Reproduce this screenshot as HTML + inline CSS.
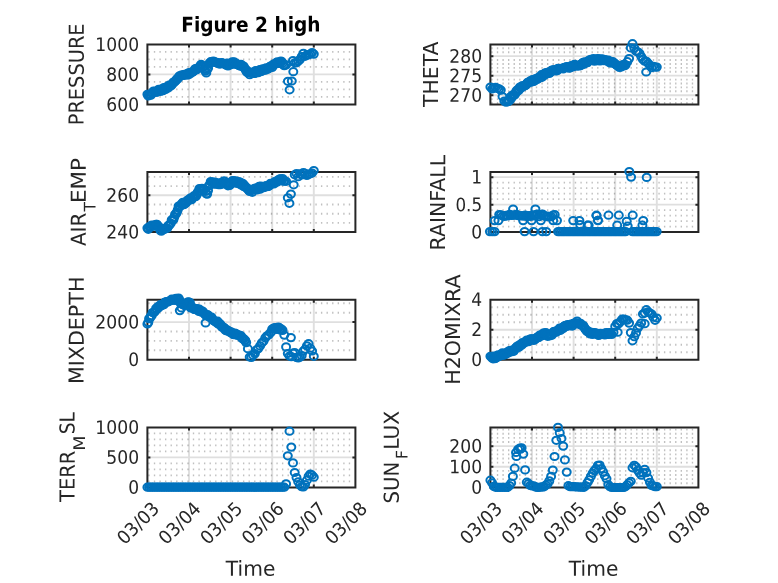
<!DOCTYPE html>
<html lang="en"><head><meta charset="utf-8"><title>Figure 2 high</title>
<style>html,body{margin:0;padding:0;background:#fff}svg{display:block;will-change:transform}text{font-family:'DejaVu Sans','Liberation Sans',sans-serif;fill:#262626}</style></head><body>
<svg width="778" height="583" viewBox="0 0 778 583">
<rect width="778" height="583" fill="#fff"/>
<g>
<path d="M148.28 96.90H353.40M148.28 89.40H353.40M148.28 81.90H353.40M148.28 66.90H353.40M148.28 59.40H353.40M148.28 51.90H353.40" stroke="#262626" stroke-opacity="0.29" stroke-width="1.9" stroke-dasharray="1.35 4.22" fill="none"/>
<path d="M189.00 44.40V104.40M230.60 44.40V104.40M272.20 44.40V104.40M313.80 44.40V104.40M147.40 74.40H355.40" stroke="#262626" stroke-opacity="0.15" stroke-width="1.9" fill="none"/>
<path d="M147.40 44.40H355.40V104.40H147.40ZM147.40 104.40v-3.0M147.40 44.40v3.0M189.00 104.40v-3.0M189.00 44.40v3.0M230.60 104.40v-3.0M230.60 44.40v3.0M272.20 104.40v-3.0M272.20 44.40v3.0M313.80 104.40v-3.0M313.80 44.40v3.0M355.40 104.40v-3.0M355.40 44.40v3.0M147.40 104.40h3.0M355.40 104.40h-3.0M147.40 74.40h3.0M355.40 74.40h-3.0M147.40 44.40h3.0M355.40 44.40h-3.0" stroke="#262626" stroke-width="2" fill="none" stroke-linejoin="miter"/>
<text transform="translate(139.1 110.9) rotate(-0.1)" font-size="18.6" text-anchor="end" textLength="32.8" lengthAdjust="spacingAndGlyphs">600</text>
<text transform="translate(139.1 80.9) rotate(-0.1)" font-size="18.6" text-anchor="end" textLength="32.8" lengthAdjust="spacingAndGlyphs">800</text>
<text transform="translate(139.1 50.9) rotate(-0.1)" font-size="18.6" text-anchor="end" textLength="43.8" lengthAdjust="spacingAndGlyphs">1000</text>
<g fill="none" stroke="#0072BD" stroke-width="2"><ellipse cx="147.4" cy="94.3" rx="4" ry="3.6"/><ellipse cx="148.3" cy="96.0" rx="4" ry="3.6"/><ellipse cx="149.1" cy="94.4" rx="4" ry="3.6"/><ellipse cx="150.0" cy="94.8" rx="4" ry="3.6"/><ellipse cx="150.9" cy="95.1" rx="4" ry="3.6"/><ellipse cx="151.7" cy="93.2" rx="4" ry="3.6"/><ellipse cx="152.6" cy="92.7" rx="4" ry="3.6"/><ellipse cx="153.5" cy="91.1" rx="4" ry="3.6"/><ellipse cx="154.3" cy="91.4" rx="4" ry="3.6"/><ellipse cx="155.2" cy="91.9" rx="4" ry="3.6"/><ellipse cx="156.1" cy="92.1" rx="4" ry="3.6"/><ellipse cx="156.9" cy="92.2" rx="4" ry="3.6"/><ellipse cx="157.8" cy="90.7" rx="4" ry="3.6"/><ellipse cx="158.7" cy="89.4" rx="4" ry="3.6"/><ellipse cx="159.5" cy="89.8" rx="4" ry="3.6"/><ellipse cx="160.4" cy="91.4" rx="4" ry="3.6"/><ellipse cx="161.3" cy="89.0" rx="4" ry="3.6"/><ellipse cx="162.1" cy="89.4" rx="4" ry="3.6"/><ellipse cx="163.0" cy="90.6" rx="4" ry="3.6"/><ellipse cx="163.9" cy="87.6" rx="4" ry="3.6"/><ellipse cx="164.7" cy="89.0" rx="4" ry="3.6"/><ellipse cx="165.6" cy="89.5" rx="4" ry="3.6"/><ellipse cx="166.5" cy="86.9" rx="4" ry="3.6"/><ellipse cx="167.3" cy="87.3" rx="4" ry="3.6"/><ellipse cx="168.2" cy="87.9" rx="4" ry="3.6"/><ellipse cx="169.1" cy="85.1" rx="4" ry="3.6"/><ellipse cx="169.9" cy="85.7" rx="4" ry="3.6"/><ellipse cx="170.8" cy="85.9" rx="4" ry="3.6"/><ellipse cx="171.7" cy="85.0" rx="4" ry="3.6"/><ellipse cx="172.5" cy="83.7" rx="4" ry="3.6"/><ellipse cx="173.4" cy="82.1" rx="4" ry="3.6"/><ellipse cx="174.3" cy="82.3" rx="4" ry="3.6"/><ellipse cx="175.1" cy="81.2" rx="4" ry="3.6"/><ellipse cx="176.0" cy="80.5" rx="4" ry="3.6"/><ellipse cx="176.9" cy="78.8" rx="4" ry="3.6"/><ellipse cx="177.7" cy="78.9" rx="4" ry="3.6"/><ellipse cx="178.6" cy="77.4" rx="4" ry="3.6"/><ellipse cx="179.5" cy="75.8" rx="4" ry="3.6"/><ellipse cx="180.3" cy="76.3" rx="4" ry="3.6"/><ellipse cx="181.2" cy="75.2" rx="4" ry="3.6"/><ellipse cx="182.1" cy="75.4" rx="4" ry="3.6"/><ellipse cx="182.9" cy="74.9" rx="4" ry="3.6"/><ellipse cx="183.8" cy="75.5" rx="4" ry="3.6"/><ellipse cx="184.7" cy="74.4" rx="4" ry="3.6"/><ellipse cx="185.5" cy="74.4" rx="4" ry="3.6"/><ellipse cx="186.4" cy="74.9" rx="4" ry="3.6"/><ellipse cx="187.3" cy="73.7" rx="4" ry="3.6"/><ellipse cx="188.1" cy="74.9" rx="4" ry="3.6"/><ellipse cx="189.0" cy="72.5" rx="4" ry="3.6"/><ellipse cx="189.9" cy="73.9" rx="4" ry="3.6"/><ellipse cx="190.7" cy="72.6" rx="4" ry="3.6"/><ellipse cx="191.6" cy="72.2" rx="4" ry="3.6"/><ellipse cx="192.5" cy="72.3" rx="4" ry="3.6"/><ellipse cx="193.3" cy="71.5" rx="4" ry="3.6"/><ellipse cx="194.2" cy="70.7" rx="4" ry="3.6"/><ellipse cx="195.1" cy="68.9" rx="4" ry="3.6"/><ellipse cx="195.9" cy="68.7" rx="4" ry="3.6"/><ellipse cx="196.8" cy="69.7" rx="4" ry="3.6"/><ellipse cx="197.7" cy="68.2" rx="4" ry="3.6"/><ellipse cx="198.5" cy="67.7" rx="4" ry="3.6"/><ellipse cx="199.4" cy="67.4" rx="4" ry="3.6"/><ellipse cx="200.3" cy="65.7" rx="4" ry="3.6"/><ellipse cx="201.1" cy="64.4" rx="4" ry="3.6"/><ellipse cx="202.0" cy="65.7" rx="4" ry="3.6"/><ellipse cx="202.9" cy="67.2" rx="4" ry="3.6"/><ellipse cx="203.7" cy="66.7" rx="4" ry="3.6"/><ellipse cx="204.6" cy="69.5" rx="4" ry="3.6"/><ellipse cx="205.5" cy="71.2" rx="4" ry="3.6"/><ellipse cx="206.3" cy="73.0" rx="4" ry="3.6"/><ellipse cx="207.2" cy="69.5" rx="4" ry="3.6"/><ellipse cx="208.1" cy="68.2" rx="4" ry="3.6"/><ellipse cx="208.9" cy="64.1" rx="4" ry="3.6"/><ellipse cx="209.8" cy="62.9" rx="4" ry="3.6"/><ellipse cx="210.7" cy="61.7" rx="4" ry="3.6"/><ellipse cx="211.5" cy="62.1" rx="4" ry="3.6"/><ellipse cx="212.4" cy="61.7" rx="4" ry="3.6"/><ellipse cx="213.3" cy="61.0" rx="4" ry="3.6"/><ellipse cx="214.1" cy="61.9" rx="4" ry="3.6"/><ellipse cx="215.0" cy="62.2" rx="4" ry="3.6"/><ellipse cx="215.9" cy="62.4" rx="4" ry="3.6"/><ellipse cx="216.7" cy="62.4" rx="4" ry="3.6"/><ellipse cx="217.6" cy="63.2" rx="4" ry="3.6"/><ellipse cx="218.5" cy="63.1" rx="4" ry="3.6"/><ellipse cx="219.3" cy="64.0" rx="4" ry="3.6"/><ellipse cx="220.2" cy="63.9" rx="4" ry="3.6"/><ellipse cx="221.1" cy="62.9" rx="4" ry="3.6"/><ellipse cx="221.9" cy="62.6" rx="4" ry="3.6"/><ellipse cx="222.8" cy="63.4" rx="4" ry="3.6"/><ellipse cx="223.7" cy="63.8" rx="4" ry="3.6"/><ellipse cx="224.5" cy="63.6" rx="4" ry="3.6"/><ellipse cx="225.4" cy="64.4" rx="4" ry="3.6"/><ellipse cx="226.3" cy="65.2" rx="4" ry="3.6"/><ellipse cx="227.1" cy="63.0" rx="4" ry="3.6"/><ellipse cx="228.0" cy="65.9" rx="4" ry="3.6"/><ellipse cx="228.9" cy="64.3" rx="4" ry="3.6"/><ellipse cx="229.7" cy="64.4" rx="4" ry="3.6"/><ellipse cx="230.6" cy="64.8" rx="4" ry="3.6"/><ellipse cx="231.5" cy="64.1" rx="4" ry="3.6"/><ellipse cx="232.3" cy="61.8" rx="4" ry="3.6"/><ellipse cx="233.2" cy="63.4" rx="4" ry="3.6"/><ellipse cx="234.1" cy="61.9" rx="4" ry="3.6"/><ellipse cx="234.9" cy="63.0" rx="4" ry="3.6"/><ellipse cx="235.8" cy="64.5" rx="4" ry="3.6"/><ellipse cx="236.7" cy="63.6" rx="4" ry="3.6"/><ellipse cx="237.5" cy="64.3" rx="4" ry="3.6"/><ellipse cx="238.4" cy="64.9" rx="4" ry="3.6"/><ellipse cx="239.3" cy="65.6" rx="4" ry="3.6"/><ellipse cx="240.1" cy="66.0" rx="4" ry="3.6"/><ellipse cx="241.0" cy="64.3" rx="4" ry="3.6"/><ellipse cx="241.9" cy="66.1" rx="4" ry="3.6"/><ellipse cx="242.7" cy="66.7" rx="4" ry="3.6"/><ellipse cx="243.6" cy="66.0" rx="4" ry="3.6"/><ellipse cx="244.5" cy="68.1" rx="4" ry="3.6"/><ellipse cx="245.3" cy="69.1" rx="4" ry="3.6"/><ellipse cx="246.2" cy="70.9" rx="4" ry="3.6"/><ellipse cx="247.1" cy="72.4" rx="4" ry="3.6"/><ellipse cx="247.9" cy="71.1" rx="4" ry="3.6"/><ellipse cx="248.8" cy="72.6" rx="4" ry="3.6"/><ellipse cx="249.7" cy="74.7" rx="4" ry="3.6"/><ellipse cx="250.5" cy="72.8" rx="4" ry="3.6"/><ellipse cx="251.4" cy="72.8" rx="4" ry="3.6"/><ellipse cx="252.3" cy="73.5" rx="4" ry="3.6"/><ellipse cx="253.1" cy="72.0" rx="4" ry="3.6"/><ellipse cx="254.0" cy="73.5" rx="4" ry="3.6"/><ellipse cx="254.9" cy="73.4" rx="4" ry="3.6"/><ellipse cx="255.7" cy="70.6" rx="4" ry="3.6"/><ellipse cx="256.6" cy="71.8" rx="4" ry="3.6"/><ellipse cx="257.5" cy="72.3" rx="4" ry="3.6"/><ellipse cx="258.3" cy="72.6" rx="4" ry="3.6"/><ellipse cx="259.2" cy="70.2" rx="4" ry="3.6"/><ellipse cx="260.1" cy="69.7" rx="4" ry="3.6"/><ellipse cx="260.9" cy="71.5" rx="4" ry="3.6"/><ellipse cx="261.8" cy="71.3" rx="4" ry="3.6"/><ellipse cx="262.7" cy="68.9" rx="4" ry="3.6"/><ellipse cx="263.5" cy="69.4" rx="4" ry="3.6"/><ellipse cx="264.4" cy="70.0" rx="4" ry="3.6"/><ellipse cx="265.3" cy="70.1" rx="4" ry="3.6"/><ellipse cx="266.1" cy="67.8" rx="4" ry="3.6"/><ellipse cx="267.0" cy="69.0" rx="4" ry="3.6"/><ellipse cx="267.9" cy="69.2" rx="4" ry="3.6"/><ellipse cx="268.7" cy="68.2" rx="4" ry="3.6"/><ellipse cx="269.6" cy="66.8" rx="4" ry="3.6"/><ellipse cx="270.5" cy="66.1" rx="4" ry="3.6"/><ellipse cx="271.3" cy="66.5" rx="4" ry="3.6"/><ellipse cx="272.2" cy="67.5" rx="4" ry="3.6"/><ellipse cx="273.1" cy="64.6" rx="4" ry="3.6"/><ellipse cx="273.9" cy="64.0" rx="4" ry="3.6"/><ellipse cx="274.8" cy="64.5" rx="4" ry="3.6"/><ellipse cx="275.7" cy="63.0" rx="4" ry="3.6"/><ellipse cx="276.5" cy="62.7" rx="4" ry="3.6"/><ellipse cx="277.4" cy="61.9" rx="4" ry="3.6"/><ellipse cx="278.3" cy="63.2" rx="4" ry="3.6"/><ellipse cx="279.1" cy="63.4" rx="4" ry="3.6"/><ellipse cx="280.0" cy="62.3" rx="4" ry="3.6"/><ellipse cx="280.9" cy="61.1" rx="4" ry="3.6"/><ellipse cx="281.7" cy="61.6" rx="4" ry="3.6"/><ellipse cx="282.6" cy="63.1" rx="4" ry="3.6"/><ellipse cx="283.5" cy="64.9" rx="4" ry="3.6"/><ellipse cx="284.3" cy="65.7" rx="4" ry="3.6"/><ellipse cx="286.1" cy="64.9" rx="4" ry="3.6"/><ellipse cx="293.0" cy="60.6" rx="4" ry="3.6"/><ellipse cx="294.7" cy="62.8" rx="4" ry="3.6"/><ellipse cx="296.5" cy="62.8" rx="4" ry="3.6"/><ellipse cx="298.2" cy="61.1" rx="4" ry="3.6"/><ellipse cx="299.9" cy="59.6" rx="4" ry="3.6"/><ellipse cx="301.7" cy="56.6" rx="4" ry="3.6"/><ellipse cx="303.4" cy="53.3" rx="4" ry="3.6"/><ellipse cx="305.1" cy="56.3" rx="4" ry="3.6"/><ellipse cx="306.9" cy="54.9" rx="4" ry="3.6"/><ellipse cx="308.6" cy="54.8" rx="4" ry="3.6"/><ellipse cx="310.3" cy="54.0" rx="4" ry="3.6"/><ellipse cx="312.1" cy="52.6" rx="4" ry="3.6"/><ellipse cx="313.8" cy="54.1" rx="4" ry="3.6"/><ellipse cx="293.3" cy="71.7" rx="4" ry="3.6"/><ellipse cx="287.9" cy="81.3" rx="4" ry="3.6"/><ellipse cx="291.8" cy="81.0" rx="4" ry="3.6"/><ellipse cx="289.6" cy="89.8" rx="4" ry="3.6"/></g>
</g>
<g>
<path d="M148.28 222.90H353.40M148.28 213.70H353.40M148.28 204.49H353.40M148.28 186.09H353.40M148.28 176.89H353.40" stroke="#262626" stroke-opacity="0.29" stroke-width="1.9" stroke-dasharray="1.35 4.22" fill="none"/>
<path d="M189.00 172.10V232.10M230.60 172.10V232.10M272.20 172.10V232.10M313.80 172.10V232.10M147.40 195.29H355.40" stroke="#262626" stroke-opacity="0.15" stroke-width="1.9" fill="none"/>
<path d="M147.40 172.10H355.40V232.10H147.40ZM147.40 232.10v-3.0M147.40 172.10v3.0M189.00 232.10v-3.0M189.00 172.10v3.0M230.60 232.10v-3.0M230.60 172.10v3.0M272.20 232.10v-3.0M272.20 172.10v3.0M313.80 232.10v-3.0M313.80 172.10v3.0M355.40 232.10v-3.0M355.40 172.10v3.0M147.40 232.10h3.0M355.40 232.10h-3.0M147.40 195.29h3.0M355.40 195.29h-3.0" stroke="#262626" stroke-width="2" fill="none" stroke-linejoin="miter"/>
<text transform="translate(139.1 238.5) rotate(-0.1)" font-size="18.6" text-anchor="end" textLength="32.8" lengthAdjust="spacingAndGlyphs">240</text>
<text transform="translate(139.1 201.7) rotate(-0.1)" font-size="18.6" text-anchor="end" textLength="32.8" lengthAdjust="spacingAndGlyphs">260</text>
<g fill="none" stroke="#0072BD" stroke-width="2"><ellipse cx="147.4" cy="228.1" rx="4" ry="3.6"/><ellipse cx="148.3" cy="229.3" rx="4" ry="3.6"/><ellipse cx="149.1" cy="226.8" rx="4" ry="3.6"/><ellipse cx="150.0" cy="226.9" rx="4" ry="3.6"/><ellipse cx="150.9" cy="226.4" rx="4" ry="3.6"/><ellipse cx="151.7" cy="225.0" rx="4" ry="3.6"/><ellipse cx="152.6" cy="225.9" rx="4" ry="3.6"/><ellipse cx="153.5" cy="225.8" rx="4" ry="3.6"/><ellipse cx="154.3" cy="225.0" rx="4" ry="3.6"/><ellipse cx="155.2" cy="226.2" rx="4" ry="3.6"/><ellipse cx="156.1" cy="224.3" rx="4" ry="3.6"/><ellipse cx="156.9" cy="224.3" rx="4" ry="3.6"/><ellipse cx="157.8" cy="225.7" rx="4" ry="3.6"/><ellipse cx="158.7" cy="226.8" rx="4" ry="3.6"/><ellipse cx="159.5" cy="227.3" rx="4" ry="3.6"/><ellipse cx="160.4" cy="230.4" rx="4" ry="3.6"/><ellipse cx="161.3" cy="231.2" rx="4" ry="3.6"/><ellipse cx="162.1" cy="229.2" rx="4" ry="3.6"/><ellipse cx="163.0" cy="229.7" rx="4" ry="3.6"/><ellipse cx="163.9" cy="228.9" rx="4" ry="3.6"/><ellipse cx="164.7" cy="229.2" rx="4" ry="3.6"/><ellipse cx="165.6" cy="228.3" rx="4" ry="3.6"/><ellipse cx="166.5" cy="228.0" rx="4" ry="3.6"/><ellipse cx="167.3" cy="228.2" rx="4" ry="3.6"/><ellipse cx="168.2" cy="225.6" rx="4" ry="3.6"/><ellipse cx="169.1" cy="225.4" rx="4" ry="3.6"/><ellipse cx="169.9" cy="224.2" rx="4" ry="3.6"/><ellipse cx="170.8" cy="223.3" rx="4" ry="3.6"/><ellipse cx="171.7" cy="219.8" rx="4" ry="3.6"/><ellipse cx="172.5" cy="220.5" rx="4" ry="3.6"/><ellipse cx="173.4" cy="219.7" rx="4" ry="3.6"/><ellipse cx="174.3" cy="217.1" rx="4" ry="3.6"/><ellipse cx="175.1" cy="214.4" rx="4" ry="3.6"/><ellipse cx="176.0" cy="213.9" rx="4" ry="3.6"/><ellipse cx="176.9" cy="212.3" rx="4" ry="3.6"/><ellipse cx="177.7" cy="209.9" rx="4" ry="3.6"/><ellipse cx="178.6" cy="206.0" rx="4" ry="3.6"/><ellipse cx="179.5" cy="206.5" rx="4" ry="3.6"/><ellipse cx="180.3" cy="206.1" rx="4" ry="3.6"/><ellipse cx="181.2" cy="204.2" rx="4" ry="3.6"/><ellipse cx="182.1" cy="204.3" rx="4" ry="3.6"/><ellipse cx="182.9" cy="202.3" rx="4" ry="3.6"/><ellipse cx="183.8" cy="204.7" rx="4" ry="3.6"/><ellipse cx="184.7" cy="203.9" rx="4" ry="3.6"/><ellipse cx="185.5" cy="202.8" rx="4" ry="3.6"/><ellipse cx="186.4" cy="202.6" rx="4" ry="3.6"/><ellipse cx="187.3" cy="200.3" rx="4" ry="3.6"/><ellipse cx="188.1" cy="200.2" rx="4" ry="3.6"/><ellipse cx="189.0" cy="199.4" rx="4" ry="3.6"/><ellipse cx="189.9" cy="199.9" rx="4" ry="3.6"/><ellipse cx="190.7" cy="197.9" rx="4" ry="3.6"/><ellipse cx="191.6" cy="199.7" rx="4" ry="3.6"/><ellipse cx="192.5" cy="197.8" rx="4" ry="3.6"/><ellipse cx="193.3" cy="197.1" rx="4" ry="3.6"/><ellipse cx="194.2" cy="195.5" rx="4" ry="3.6"/><ellipse cx="195.1" cy="196.6" rx="4" ry="3.6"/><ellipse cx="195.9" cy="196.4" rx="4" ry="3.6"/><ellipse cx="196.8" cy="194.7" rx="4" ry="3.6"/><ellipse cx="197.7" cy="192.0" rx="4" ry="3.6"/><ellipse cx="198.5" cy="192.0" rx="4" ry="3.6"/><ellipse cx="199.4" cy="188.6" rx="4" ry="3.6"/><ellipse cx="200.3" cy="189.2" rx="4" ry="3.6"/><ellipse cx="201.1" cy="188.8" rx="4" ry="3.6"/><ellipse cx="202.0" cy="188.3" rx="4" ry="3.6"/><ellipse cx="202.9" cy="189.4" rx="4" ry="3.6"/><ellipse cx="203.7" cy="190.1" rx="4" ry="3.6"/><ellipse cx="204.6" cy="189.3" rx="4" ry="3.6"/><ellipse cx="205.5" cy="191.5" rx="4" ry="3.6"/><ellipse cx="206.3" cy="193.7" rx="4" ry="3.6"/><ellipse cx="207.2" cy="194.1" rx="4" ry="3.6"/><ellipse cx="208.1" cy="190.6" rx="4" ry="3.6"/><ellipse cx="208.9" cy="185.6" rx="4" ry="3.6"/><ellipse cx="209.8" cy="185.0" rx="4" ry="3.6"/><ellipse cx="210.7" cy="181.6" rx="4" ry="3.6"/><ellipse cx="211.5" cy="182.3" rx="4" ry="3.6"/><ellipse cx="212.4" cy="182.1" rx="4" ry="3.6"/><ellipse cx="213.3" cy="182.3" rx="4" ry="3.6"/><ellipse cx="214.1" cy="184.1" rx="4" ry="3.6"/><ellipse cx="215.0" cy="182.0" rx="4" ry="3.6"/><ellipse cx="215.9" cy="183.9" rx="4" ry="3.6"/><ellipse cx="216.7" cy="183.7" rx="4" ry="3.6"/><ellipse cx="217.6" cy="182.8" rx="4" ry="3.6"/><ellipse cx="218.5" cy="184.7" rx="4" ry="3.6"/><ellipse cx="219.3" cy="183.9" rx="4" ry="3.6"/><ellipse cx="220.2" cy="184.6" rx="4" ry="3.6"/><ellipse cx="221.1" cy="183.4" rx="4" ry="3.6"/><ellipse cx="221.9" cy="182.3" rx="4" ry="3.6"/><ellipse cx="222.8" cy="184.0" rx="4" ry="3.6"/><ellipse cx="223.7" cy="181.1" rx="4" ry="3.6"/><ellipse cx="224.5" cy="181.0" rx="4" ry="3.6"/><ellipse cx="225.4" cy="183.6" rx="4" ry="3.6"/><ellipse cx="226.3" cy="183.1" rx="4" ry="3.6"/><ellipse cx="227.1" cy="183.7" rx="4" ry="3.6"/><ellipse cx="228.0" cy="185.8" rx="4" ry="3.6"/><ellipse cx="228.9" cy="184.4" rx="4" ry="3.6"/><ellipse cx="229.7" cy="185.4" rx="4" ry="3.6"/><ellipse cx="230.6" cy="184.0" rx="4" ry="3.6"/><ellipse cx="231.5" cy="182.3" rx="4" ry="3.6"/><ellipse cx="232.3" cy="180.8" rx="4" ry="3.6"/><ellipse cx="233.2" cy="180.6" rx="4" ry="3.6"/><ellipse cx="234.1" cy="182.9" rx="4" ry="3.6"/><ellipse cx="234.9" cy="181.4" rx="4" ry="3.6"/><ellipse cx="235.8" cy="180.9" rx="4" ry="3.6"/><ellipse cx="236.7" cy="181.5" rx="4" ry="3.6"/><ellipse cx="237.5" cy="183.5" rx="4" ry="3.6"/><ellipse cx="238.4" cy="181.5" rx="4" ry="3.6"/><ellipse cx="239.3" cy="183.6" rx="4" ry="3.6"/><ellipse cx="240.1" cy="182.1" rx="4" ry="3.6"/><ellipse cx="241.0" cy="185.0" rx="4" ry="3.6"/><ellipse cx="241.9" cy="184.2" rx="4" ry="3.6"/><ellipse cx="242.7" cy="183.3" rx="4" ry="3.6"/><ellipse cx="243.6" cy="186.4" rx="4" ry="3.6"/><ellipse cx="244.5" cy="185.2" rx="4" ry="3.6"/><ellipse cx="245.3" cy="187.2" rx="4" ry="3.6"/><ellipse cx="246.2" cy="187.8" rx="4" ry="3.6"/><ellipse cx="247.1" cy="187.8" rx="4" ry="3.6"/><ellipse cx="247.9" cy="189.1" rx="4" ry="3.6"/><ellipse cx="248.8" cy="190.4" rx="4" ry="3.6"/><ellipse cx="249.7" cy="191.4" rx="4" ry="3.6"/><ellipse cx="250.5" cy="190.6" rx="4" ry="3.6"/><ellipse cx="251.4" cy="190.1" rx="4" ry="3.6"/><ellipse cx="252.3" cy="192.3" rx="4" ry="3.6"/><ellipse cx="253.1" cy="189.2" rx="4" ry="3.6"/><ellipse cx="254.0" cy="190.0" rx="4" ry="3.6"/><ellipse cx="254.9" cy="188.3" rx="4" ry="3.6"/><ellipse cx="255.7" cy="188.1" rx="4" ry="3.6"/><ellipse cx="256.6" cy="189.5" rx="4" ry="3.6"/><ellipse cx="257.5" cy="189.8" rx="4" ry="3.6"/><ellipse cx="258.3" cy="188.1" rx="4" ry="3.6"/><ellipse cx="259.2" cy="186.4" rx="4" ry="3.6"/><ellipse cx="260.1" cy="189.1" rx="4" ry="3.6"/><ellipse cx="260.9" cy="186.0" rx="4" ry="3.6"/><ellipse cx="261.8" cy="186.8" rx="4" ry="3.6"/><ellipse cx="262.7" cy="187.0" rx="4" ry="3.6"/><ellipse cx="263.5" cy="187.7" rx="4" ry="3.6"/><ellipse cx="264.4" cy="187.3" rx="4" ry="3.6"/><ellipse cx="265.3" cy="186.4" rx="4" ry="3.6"/><ellipse cx="266.1" cy="185.5" rx="4" ry="3.6"/><ellipse cx="267.0" cy="186.6" rx="4" ry="3.6"/><ellipse cx="267.9" cy="186.4" rx="4" ry="3.6"/><ellipse cx="268.7" cy="186.2" rx="4" ry="3.6"/><ellipse cx="269.6" cy="185.4" rx="4" ry="3.6"/><ellipse cx="270.5" cy="183.3" rx="4" ry="3.6"/><ellipse cx="271.3" cy="183.6" rx="4" ry="3.6"/><ellipse cx="272.2" cy="183.7" rx="4" ry="3.6"/><ellipse cx="273.1" cy="183.3" rx="4" ry="3.6"/><ellipse cx="273.9" cy="183.9" rx="4" ry="3.6"/><ellipse cx="274.8" cy="181.6" rx="4" ry="3.6"/><ellipse cx="275.7" cy="182.5" rx="4" ry="3.6"/><ellipse cx="276.5" cy="181.2" rx="4" ry="3.6"/><ellipse cx="277.4" cy="182.0" rx="4" ry="3.6"/><ellipse cx="278.3" cy="179.8" rx="4" ry="3.6"/><ellipse cx="279.1" cy="180.3" rx="4" ry="3.6"/><ellipse cx="280.0" cy="178.8" rx="4" ry="3.6"/><ellipse cx="280.9" cy="178.8" rx="4" ry="3.6"/><ellipse cx="281.7" cy="180.6" rx="4" ry="3.6"/><ellipse cx="282.6" cy="178.6" rx="4" ry="3.6"/><ellipse cx="283.5" cy="181.2" rx="4" ry="3.6"/><ellipse cx="284.3" cy="181.0" rx="4" ry="3.6"/><ellipse cx="286.1" cy="181.3" rx="4" ry="3.6"/><ellipse cx="294.7" cy="174.8" rx="4" ry="3.6"/><ellipse cx="296.5" cy="173.5" rx="4" ry="3.6"/><ellipse cx="298.2" cy="176.7" rx="4" ry="3.6"/><ellipse cx="299.9" cy="173.8" rx="4" ry="3.6"/><ellipse cx="301.7" cy="174.9" rx="4" ry="3.6"/><ellipse cx="303.4" cy="172.6" rx="4" ry="3.6"/><ellipse cx="305.1" cy="173.4" rx="4" ry="3.6"/><ellipse cx="306.9" cy="175.4" rx="4" ry="3.6"/><ellipse cx="308.6" cy="174.3" rx="4" ry="3.6"/><ellipse cx="310.3" cy="173.8" rx="4" ry="3.6"/><ellipse cx="312.1" cy="173.0" rx="4" ry="3.6"/><ellipse cx="313.8" cy="170.5" rx="4" ry="3.6"/><ellipse cx="293.7" cy="184.8" rx="4" ry="3.6"/><ellipse cx="290.9" cy="194.1" rx="4" ry="3.6"/><ellipse cx="287.8" cy="197.8" rx="4" ry="3.6"/><ellipse cx="289.4" cy="203.3" rx="4" ry="3.6"/></g>
</g>
<g>
<path d="M148.28 350.30H353.40M148.28 340.89H353.40M148.28 331.49H353.40M148.28 312.68H353.40M148.28 303.27H353.40" stroke="#262626" stroke-opacity="0.29" stroke-width="1.9" stroke-dasharray="1.35 4.22" fill="none"/>
<path d="M189.00 299.70V359.70M230.60 299.70V359.70M272.20 299.70V359.70M313.80 299.70V359.70M147.40 322.08H355.40" stroke="#262626" stroke-opacity="0.15" stroke-width="1.9" fill="none"/>
<path d="M147.40 299.70H355.40V359.70H147.40ZM147.40 359.70v-3.0M147.40 299.70v3.0M189.00 359.70v-3.0M189.00 299.70v3.0M230.60 359.70v-3.0M230.60 299.70v3.0M272.20 359.70v-3.0M272.20 299.70v3.0M313.80 359.70v-3.0M313.80 299.70v3.0M355.40 359.70v-3.0M355.40 299.70v3.0M147.40 359.70h3.0M355.40 359.70h-3.0M147.40 322.08h3.0M355.40 322.08h-3.0" stroke="#262626" stroke-width="2" fill="none" stroke-linejoin="miter"/>
<text transform="translate(139.1 366.1) rotate(-0.1)" font-size="18.6" text-anchor="end" textLength="10.9" lengthAdjust="spacingAndGlyphs">0</text>
<text transform="translate(139.1 328.5) rotate(-0.1)" font-size="18.6" text-anchor="end" textLength="43.8" lengthAdjust="spacingAndGlyphs">2000</text>
<g fill="none" stroke="#0072BD" stroke-width="2"><ellipse cx="147.4" cy="324.0" rx="4" ry="3.6"/><ellipse cx="148.3" cy="322.4" rx="4" ry="3.6"/><ellipse cx="149.1" cy="318.6" rx="4" ry="3.6"/><ellipse cx="150.0" cy="318.1" rx="4" ry="3.6"/><ellipse cx="150.9" cy="316.0" rx="4" ry="3.6"/><ellipse cx="151.7" cy="315.8" rx="4" ry="3.6"/><ellipse cx="152.6" cy="312.5" rx="4" ry="3.6"/><ellipse cx="153.5" cy="312.5" rx="4" ry="3.6"/><ellipse cx="154.3" cy="312.2" rx="4" ry="3.6"/><ellipse cx="155.2" cy="311.0" rx="4" ry="3.6"/><ellipse cx="156.1" cy="308.4" rx="4" ry="3.6"/><ellipse cx="156.9" cy="309.3" rx="4" ry="3.6"/><ellipse cx="157.8" cy="306.7" rx="4" ry="3.6"/><ellipse cx="158.7" cy="307.6" rx="4" ry="3.6"/><ellipse cx="159.5" cy="306.2" rx="4" ry="3.6"/><ellipse cx="160.4" cy="304.7" rx="4" ry="3.6"/><ellipse cx="161.3" cy="305.6" rx="4" ry="3.6"/><ellipse cx="162.1" cy="305.2" rx="4" ry="3.6"/><ellipse cx="163.0" cy="304.3" rx="4" ry="3.6"/><ellipse cx="163.9" cy="304.6" rx="4" ry="3.6"/><ellipse cx="164.7" cy="302.4" rx="4" ry="3.6"/><ellipse cx="165.6" cy="302.0" rx="4" ry="3.6"/><ellipse cx="166.5" cy="301.5" rx="4" ry="3.6"/><ellipse cx="167.3" cy="302.2" rx="4" ry="3.6"/><ellipse cx="168.2" cy="301.5" rx="4" ry="3.6"/><ellipse cx="169.1" cy="301.0" rx="4" ry="3.6"/><ellipse cx="169.9" cy="301.0" rx="4" ry="3.6"/><ellipse cx="170.8" cy="300.2" rx="4" ry="3.6"/><ellipse cx="171.7" cy="299.2" rx="4" ry="3.6"/><ellipse cx="172.5" cy="300.1" rx="4" ry="3.6"/><ellipse cx="173.4" cy="299.4" rx="4" ry="3.6"/><ellipse cx="174.3" cy="299.5" rx="4" ry="3.6"/><ellipse cx="175.1" cy="300.5" rx="4" ry="3.6"/><ellipse cx="176.0" cy="298.4" rx="4" ry="3.6"/><ellipse cx="176.9" cy="299.4" rx="4" ry="3.6"/><ellipse cx="177.7" cy="299.2" rx="4" ry="3.6"/><ellipse cx="178.6" cy="298.0" rx="4" ry="3.6"/><ellipse cx="179.5" cy="300.1" rx="4" ry="3.6"/><ellipse cx="180.3" cy="303.0" rx="4" ry="3.6"/><ellipse cx="181.2" cy="302.7" rx="4" ry="3.6"/><ellipse cx="182.1" cy="304.0" rx="4" ry="3.6"/><ellipse cx="182.9" cy="304.8" rx="4" ry="3.6"/><ellipse cx="183.8" cy="303.9" rx="4" ry="3.6"/><ellipse cx="184.7" cy="305.3" rx="4" ry="3.6"/><ellipse cx="185.5" cy="303.8" rx="4" ry="3.6"/><ellipse cx="186.4" cy="303.0" rx="4" ry="3.6"/><ellipse cx="187.3" cy="303.1" rx="4" ry="3.6"/><ellipse cx="188.1" cy="301.8" rx="4" ry="3.6"/><ellipse cx="189.0" cy="302.1" rx="4" ry="3.6"/><ellipse cx="189.9" cy="302.6" rx="4" ry="3.6"/><ellipse cx="190.7" cy="307.9" rx="4" ry="3.6"/><ellipse cx="191.6" cy="307.8" rx="4" ry="3.6"/><ellipse cx="192.5" cy="307.2" rx="4" ry="3.6"/><ellipse cx="193.3" cy="308.0" rx="4" ry="3.6"/><ellipse cx="194.2" cy="309.4" rx="4" ry="3.6"/><ellipse cx="195.1" cy="309.4" rx="4" ry="3.6"/><ellipse cx="195.9" cy="308.8" rx="4" ry="3.6"/><ellipse cx="196.8" cy="308.6" rx="4" ry="3.6"/><ellipse cx="197.7" cy="309.1" rx="4" ry="3.6"/><ellipse cx="198.5" cy="311.1" rx="4" ry="3.6"/><ellipse cx="199.4" cy="309.2" rx="4" ry="3.6"/><ellipse cx="200.3" cy="311.7" rx="4" ry="3.6"/><ellipse cx="201.1" cy="312.0" rx="4" ry="3.6"/><ellipse cx="202.0" cy="310.8" rx="4" ry="3.6"/><ellipse cx="202.9" cy="311.5" rx="4" ry="3.6"/><ellipse cx="203.7" cy="312.7" rx="4" ry="3.6"/><ellipse cx="204.6" cy="313.9" rx="4" ry="3.6"/><ellipse cx="205.5" cy="315.0" rx="4" ry="3.6"/><ellipse cx="206.3" cy="315.8" rx="4" ry="3.6"/><ellipse cx="207.2" cy="314.6" rx="4" ry="3.6"/><ellipse cx="208.1" cy="315.0" rx="4" ry="3.6"/><ellipse cx="208.9" cy="316.4" rx="4" ry="3.6"/><ellipse cx="209.8" cy="317.2" rx="4" ry="3.6"/><ellipse cx="210.7" cy="318.0" rx="4" ry="3.6"/><ellipse cx="211.5" cy="317.1" rx="4" ry="3.6"/><ellipse cx="212.4" cy="319.0" rx="4" ry="3.6"/><ellipse cx="213.3" cy="320.3" rx="4" ry="3.6"/><ellipse cx="214.1" cy="320.8" rx="4" ry="3.6"/><ellipse cx="215.0" cy="321.4" rx="4" ry="3.6"/><ellipse cx="215.9" cy="321.9" rx="4" ry="3.6"/><ellipse cx="216.7" cy="322.8" rx="4" ry="3.6"/><ellipse cx="217.6" cy="321.2" rx="4" ry="3.6"/><ellipse cx="218.5" cy="324.2" rx="4" ry="3.6"/><ellipse cx="219.3" cy="323.3" rx="4" ry="3.6"/><ellipse cx="220.2" cy="324.1" rx="4" ry="3.6"/><ellipse cx="221.1" cy="325.3" rx="4" ry="3.6"/><ellipse cx="221.9" cy="327.3" rx="4" ry="3.6"/><ellipse cx="222.8" cy="327.2" rx="4" ry="3.6"/><ellipse cx="223.7" cy="327.3" rx="4" ry="3.6"/><ellipse cx="224.5" cy="328.1" rx="4" ry="3.6"/><ellipse cx="225.4" cy="330.2" rx="4" ry="3.6"/><ellipse cx="226.3" cy="330.8" rx="4" ry="3.6"/><ellipse cx="227.1" cy="329.8" rx="4" ry="3.6"/><ellipse cx="228.0" cy="330.8" rx="4" ry="3.6"/><ellipse cx="228.9" cy="331.4" rx="4" ry="3.6"/><ellipse cx="229.7" cy="331.3" rx="4" ry="3.6"/><ellipse cx="230.6" cy="332.6" rx="4" ry="3.6"/><ellipse cx="231.5" cy="332.0" rx="4" ry="3.6"/><ellipse cx="232.3" cy="333.2" rx="4" ry="3.6"/><ellipse cx="233.2" cy="334.5" rx="4" ry="3.6"/><ellipse cx="234.1" cy="334.6" rx="4" ry="3.6"/><ellipse cx="234.9" cy="333.0" rx="4" ry="3.6"/><ellipse cx="235.8" cy="333.6" rx="4" ry="3.6"/><ellipse cx="236.7" cy="334.4" rx="4" ry="3.6"/><ellipse cx="237.5" cy="335.4" rx="4" ry="3.6"/><ellipse cx="238.4" cy="335.0" rx="4" ry="3.6"/><ellipse cx="239.3" cy="335.0" rx="4" ry="3.6"/><ellipse cx="240.1" cy="335.5" rx="4" ry="3.6"/><ellipse cx="241.0" cy="335.8" rx="4" ry="3.6"/><ellipse cx="241.9" cy="338.3" rx="4" ry="3.6"/><ellipse cx="242.7" cy="338.6" rx="4" ry="3.6"/><ellipse cx="243.6" cy="338.6" rx="4" ry="3.6"/><ellipse cx="244.5" cy="340.1" rx="4" ry="3.6"/><ellipse cx="245.3" cy="340.4" rx="4" ry="3.6"/><ellipse cx="246.2" cy="342.6" rx="4" ry="3.6"/><ellipse cx="247.9" cy="348.7" rx="4" ry="3.6"/><ellipse cx="249.7" cy="357.0" rx="4" ry="3.6"/><ellipse cx="251.4" cy="357.4" rx="4" ry="3.6"/><ellipse cx="253.1" cy="355.3" rx="4" ry="3.6"/><ellipse cx="254.9" cy="353.6" rx="4" ry="3.6"/><ellipse cx="256.6" cy="349.7" rx="4" ry="3.6"/><ellipse cx="258.3" cy="348.6" rx="4" ry="3.6"/><ellipse cx="260.1" cy="345.9" rx="4" ry="3.6"/><ellipse cx="261.8" cy="342.9" rx="4" ry="3.6"/><ellipse cx="263.5" cy="341.3" rx="4" ry="3.6"/><ellipse cx="265.3" cy="337.9" rx="4" ry="3.6"/><ellipse cx="267.0" cy="335.8" rx="4" ry="3.6"/><ellipse cx="268.7" cy="335.0" rx="4" ry="3.6"/><ellipse cx="270.5" cy="332.7" rx="4" ry="3.6"/><ellipse cx="271.3" cy="331.7" rx="4" ry="3.6"/><ellipse cx="272.2" cy="329.0" rx="4" ry="3.6"/><ellipse cx="273.1" cy="328.7" rx="4" ry="3.6"/><ellipse cx="273.9" cy="328.0" rx="4" ry="3.6"/><ellipse cx="274.8" cy="327.8" rx="4" ry="3.6"/><ellipse cx="275.7" cy="327.5" rx="4" ry="3.6"/><ellipse cx="276.5" cy="329.3" rx="4" ry="3.6"/><ellipse cx="277.4" cy="328.8" rx="4" ry="3.6"/><ellipse cx="278.3" cy="327.1" rx="4" ry="3.6"/><ellipse cx="279.1" cy="327.6" rx="4" ry="3.6"/><ellipse cx="280.0" cy="329.9" rx="4" ry="3.6"/><ellipse cx="280.9" cy="329.3" rx="4" ry="3.6"/><ellipse cx="281.7" cy="329.2" rx="4" ry="3.6"/><ellipse cx="282.6" cy="330.4" rx="4" ry="3.6"/><ellipse cx="284.3" cy="335.1" rx="4" ry="3.6"/><ellipse cx="286.1" cy="346.9" rx="4" ry="3.6"/><ellipse cx="287.8" cy="353.5" rx="4" ry="3.6"/><ellipse cx="289.5" cy="356.0" rx="4" ry="3.6"/><ellipse cx="291.3" cy="356.6" rx="4" ry="3.6"/><ellipse cx="293.0" cy="353.0" rx="4" ry="3.6"/><ellipse cx="294.7" cy="352.5" rx="4" ry="3.6"/><ellipse cx="296.5" cy="357.4" rx="4" ry="3.6"/><ellipse cx="298.2" cy="357.9" rx="4" ry="3.6"/><ellipse cx="299.9" cy="357.1" rx="4" ry="3.6"/><ellipse cx="301.7" cy="355.7" rx="4" ry="3.6"/><ellipse cx="303.4" cy="351.1" rx="4" ry="3.6"/><ellipse cx="305.1" cy="349.2" rx="4" ry="3.6"/><ellipse cx="306.9" cy="345.9" rx="4" ry="3.6"/><ellipse cx="308.6" cy="343.7" rx="4" ry="3.6"/><ellipse cx="310.3" cy="348.2" rx="4" ry="3.6"/><ellipse cx="312.1" cy="351.0" rx="4" ry="3.6"/><ellipse cx="313.8" cy="356.3" rx="4" ry="3.6"/><ellipse cx="179.8" cy="310.6" rx="4" ry="3.6"/><ellipse cx="205.6" cy="322.9" rx="4" ry="3.6"/><ellipse cx="290.9" cy="337.6" rx="4" ry="3.6"/><ellipse cx="181.5" cy="308.0" rx="4" ry="3.6"/></g>
</g>
<g>
<path d="M148.28 481.40H353.40M148.28 475.40H353.40M148.28 469.40H353.40M148.28 463.40H353.40M148.28 451.40H353.40M148.28 445.40H353.40M148.28 439.40H353.40M148.28 433.40H353.40" stroke="#262626" stroke-opacity="0.29" stroke-width="1.9" stroke-dasharray="1.35 4.22" fill="none"/>
<path d="M189.00 427.40V487.40M230.60 427.40V487.40M272.20 427.40V487.40M313.80 427.40V487.40M147.40 457.40H355.40" stroke="#262626" stroke-opacity="0.15" stroke-width="1.9" fill="none"/>
<path d="M147.40 427.40H355.40V487.40H147.40ZM147.40 487.40v-3.0M147.40 427.40v3.0M189.00 487.40v-3.0M189.00 427.40v3.0M230.60 487.40v-3.0M230.60 427.40v3.0M272.20 487.40v-3.0M272.20 427.40v3.0M313.80 487.40v-3.0M313.80 427.40v3.0M355.40 487.40v-3.0M355.40 427.40v3.0M147.40 487.40h3.0M355.40 487.40h-3.0M147.40 457.40h3.0M355.40 457.40h-3.0M147.40 427.40h3.0M355.40 427.40h-3.0" stroke="#262626" stroke-width="2" fill="none" stroke-linejoin="miter"/>
<text transform="translate(139.1 493.8) rotate(-0.1)" font-size="18.6" text-anchor="end" textLength="10.9" lengthAdjust="spacingAndGlyphs">0</text>
<text transform="translate(139.1 463.8) rotate(-0.1)" font-size="18.6" text-anchor="end" textLength="32.8" lengthAdjust="spacingAndGlyphs">500</text>
<text transform="translate(139.1 433.8) rotate(-0.1)" font-size="18.6" text-anchor="end" textLength="43.8" lengthAdjust="spacingAndGlyphs">1000</text>
<g fill="none" stroke="#0072BD" stroke-width="2"><ellipse cx="147.4" cy="487.2" rx="4" ry="3.6"/><ellipse cx="149.1" cy="487.2" rx="4" ry="3.6"/><ellipse cx="150.9" cy="487.2" rx="4" ry="3.6"/><ellipse cx="152.6" cy="487.2" rx="4" ry="3.6"/><ellipse cx="154.3" cy="487.2" rx="4" ry="3.6"/><ellipse cx="156.1" cy="487.2" rx="4" ry="3.6"/><ellipse cx="157.8" cy="487.2" rx="4" ry="3.6"/><ellipse cx="159.5" cy="487.2" rx="4" ry="3.6"/><ellipse cx="161.3" cy="487.2" rx="4" ry="3.6"/><ellipse cx="163.0" cy="487.2" rx="4" ry="3.6"/><ellipse cx="164.7" cy="487.2" rx="4" ry="3.6"/><ellipse cx="166.5" cy="487.2" rx="4" ry="3.6"/><ellipse cx="168.2" cy="487.2" rx="4" ry="3.6"/><ellipse cx="169.9" cy="487.2" rx="4" ry="3.6"/><ellipse cx="171.7" cy="487.2" rx="4" ry="3.6"/><ellipse cx="173.4" cy="487.2" rx="4" ry="3.6"/><ellipse cx="175.1" cy="487.2" rx="4" ry="3.6"/><ellipse cx="176.9" cy="487.2" rx="4" ry="3.6"/><ellipse cx="178.6" cy="487.2" rx="4" ry="3.6"/><ellipse cx="180.3" cy="487.2" rx="4" ry="3.6"/><ellipse cx="182.1" cy="487.2" rx="4" ry="3.6"/><ellipse cx="183.8" cy="487.2" rx="4" ry="3.6"/><ellipse cx="185.5" cy="487.2" rx="4" ry="3.6"/><ellipse cx="187.3" cy="487.2" rx="4" ry="3.6"/><ellipse cx="189.0" cy="487.2" rx="4" ry="3.6"/><ellipse cx="190.7" cy="487.2" rx="4" ry="3.6"/><ellipse cx="192.5" cy="487.2" rx="4" ry="3.6"/><ellipse cx="194.2" cy="487.2" rx="4" ry="3.6"/><ellipse cx="195.9" cy="487.2" rx="4" ry="3.6"/><ellipse cx="197.7" cy="487.2" rx="4" ry="3.6"/><ellipse cx="199.4" cy="487.2" rx="4" ry="3.6"/><ellipse cx="201.1" cy="487.2" rx="4" ry="3.6"/><ellipse cx="202.9" cy="487.2" rx="4" ry="3.6"/><ellipse cx="204.6" cy="487.2" rx="4" ry="3.6"/><ellipse cx="206.3" cy="487.2" rx="4" ry="3.6"/><ellipse cx="208.1" cy="487.2" rx="4" ry="3.6"/><ellipse cx="209.8" cy="487.2" rx="4" ry="3.6"/><ellipse cx="211.5" cy="487.2" rx="4" ry="3.6"/><ellipse cx="213.3" cy="487.2" rx="4" ry="3.6"/><ellipse cx="215.0" cy="487.2" rx="4" ry="3.6"/><ellipse cx="216.7" cy="487.2" rx="4" ry="3.6"/><ellipse cx="218.5" cy="487.2" rx="4" ry="3.6"/><ellipse cx="220.2" cy="487.2" rx="4" ry="3.6"/><ellipse cx="221.9" cy="487.2" rx="4" ry="3.6"/><ellipse cx="223.7" cy="487.2" rx="4" ry="3.6"/><ellipse cx="225.4" cy="487.2" rx="4" ry="3.6"/><ellipse cx="227.1" cy="487.2" rx="4" ry="3.6"/><ellipse cx="228.9" cy="487.2" rx="4" ry="3.6"/><ellipse cx="230.6" cy="487.2" rx="4" ry="3.6"/><ellipse cx="232.3" cy="487.2" rx="4" ry="3.6"/><ellipse cx="234.1" cy="487.2" rx="4" ry="3.6"/><ellipse cx="235.8" cy="487.2" rx="4" ry="3.6"/><ellipse cx="237.5" cy="487.2" rx="4" ry="3.6"/><ellipse cx="239.3" cy="487.2" rx="4" ry="3.6"/><ellipse cx="241.0" cy="487.2" rx="4" ry="3.6"/><ellipse cx="242.7" cy="487.2" rx="4" ry="3.6"/><ellipse cx="244.5" cy="487.2" rx="4" ry="3.6"/><ellipse cx="246.2" cy="487.2" rx="4" ry="3.6"/><ellipse cx="247.9" cy="487.2" rx="4" ry="3.6"/><ellipse cx="249.7" cy="487.2" rx="4" ry="3.6"/><ellipse cx="251.4" cy="487.2" rx="4" ry="3.6"/><ellipse cx="253.1" cy="487.2" rx="4" ry="3.6"/><ellipse cx="254.9" cy="487.2" rx="4" ry="3.6"/><ellipse cx="256.6" cy="487.2" rx="4" ry="3.6"/><ellipse cx="258.3" cy="487.2" rx="4" ry="3.6"/><ellipse cx="260.1" cy="487.2" rx="4" ry="3.6"/><ellipse cx="261.8" cy="487.2" rx="4" ry="3.6"/><ellipse cx="263.5" cy="487.2" rx="4" ry="3.6"/><ellipse cx="265.3" cy="487.2" rx="4" ry="3.6"/><ellipse cx="267.0" cy="487.2" rx="4" ry="3.6"/><ellipse cx="268.7" cy="487.2" rx="4" ry="3.6"/><ellipse cx="270.5" cy="487.2" rx="4" ry="3.6"/><ellipse cx="272.2" cy="487.2" rx="4" ry="3.6"/><ellipse cx="273.9" cy="487.2" rx="4" ry="3.6"/><ellipse cx="275.7" cy="487.2" rx="4" ry="3.6"/><ellipse cx="277.4" cy="487.2" rx="4" ry="3.6"/><ellipse cx="279.1" cy="487.2" rx="4" ry="3.6"/><ellipse cx="280.9" cy="487.2" rx="4" ry="3.6"/><ellipse cx="282.6" cy="487.2" rx="4" ry="3.6"/><ellipse cx="284.3" cy="487.2" rx="4" ry="3.6"/><ellipse cx="286.1" cy="483.9" rx="4" ry="3.6"/><ellipse cx="287.8" cy="455.8" rx="4" ry="3.6"/><ellipse cx="289.5" cy="431.2" rx="4" ry="3.6"/><ellipse cx="291.3" cy="447.1" rx="4" ry="3.6"/><ellipse cx="293.0" cy="462.9" rx="4" ry="3.6"/><ellipse cx="294.7" cy="472.5" rx="4" ry="3.6"/><ellipse cx="296.5" cy="477.6" rx="4" ry="3.6"/><ellipse cx="298.2" cy="481.8" rx="4" ry="3.6"/><ellipse cx="299.9" cy="485.0" rx="4" ry="3.6"/><ellipse cx="301.7" cy="486.6" rx="4" ry="3.6"/><ellipse cx="303.4" cy="487.0" rx="4" ry="3.6"/><ellipse cx="305.1" cy="484.5" rx="4" ry="3.6"/><ellipse cx="306.9" cy="480.2" rx="4" ry="3.6"/><ellipse cx="308.6" cy="476.2" rx="4" ry="3.6"/><ellipse cx="310.3" cy="474.0" rx="4" ry="3.6"/><ellipse cx="312.1" cy="475.2" rx="4" ry="3.6"/><ellipse cx="313.8" cy="477.2" rx="4" ry="3.6"/></g>
<text transform="translate(160.4 509.9) rotate(-45)" font-size="18.6" text-anchor="end" textLength="50.5" lengthAdjust="spacingAndGlyphs">03/03</text>
<text transform="translate(202.0 509.9) rotate(-45)" font-size="18.6" text-anchor="end" textLength="50.5" lengthAdjust="spacingAndGlyphs">03/04</text>
<text transform="translate(243.6 509.9) rotate(-45)" font-size="18.6" text-anchor="end" textLength="50.5" lengthAdjust="spacingAndGlyphs">03/05</text>
<text transform="translate(285.2 509.9) rotate(-45)" font-size="18.6" text-anchor="end" textLength="50.5" lengthAdjust="spacingAndGlyphs">03/06</text>
<text transform="translate(326.8 509.9) rotate(-45)" font-size="18.6" text-anchor="end" textLength="50.5" lengthAdjust="spacingAndGlyphs">03/07</text>
<text transform="translate(368.4 509.9) rotate(-45)" font-size="18.6" text-anchor="end" textLength="50.5" lengthAdjust="spacingAndGlyphs">03/08</text>
<text transform="translate(250.6 575.7) rotate(-0.1)" font-size="20.6" text-anchor="middle" textLength="49.6" lengthAdjust="spacingAndGlyphs">Time</text>
</g>
<g>
<path d="M491.28 103.03H696.40M491.28 99.12H696.40M491.28 91.31H696.40M491.28 87.40H696.40M491.28 83.49H696.40M491.28 79.58H696.40M491.28 71.76H696.40M491.28 67.85H696.40M491.28 63.94H696.40M491.28 60.04H696.40M491.28 52.22H696.40M491.28 48.31H696.40" stroke="#262626" stroke-opacity="0.29" stroke-width="1.9" stroke-dasharray="1.35 4.22" fill="none"/>
<path d="M532.00 44.40V104.40M573.60 44.40V104.40M615.20 44.40V104.40M656.80 44.40V104.40M490.40 95.21H698.40M490.40 75.67H698.40M490.40 56.13H698.40" stroke="#262626" stroke-opacity="0.15" stroke-width="1.9" fill="none"/>
<path d="M490.40 44.40H698.40V104.40H490.40ZM490.40 104.40v-3.0M490.40 44.40v3.0M532.00 104.40v-3.0M532.00 44.40v3.0M573.60 104.40v-3.0M573.60 44.40v3.0M615.20 104.40v-3.0M615.20 44.40v3.0M656.80 104.40v-3.0M656.80 44.40v3.0M698.40 104.40v-3.0M698.40 44.40v3.0M490.40 95.21h3.0M698.40 95.21h-3.0M490.40 75.67h3.0M698.40 75.67h-3.0M490.40 56.13h3.0M698.40 56.13h-3.0" stroke="#262626" stroke-width="2" fill="none" stroke-linejoin="miter"/>
<text transform="translate(482.1 101.7) rotate(-0.1)" font-size="18.6" text-anchor="end" textLength="32.8" lengthAdjust="spacingAndGlyphs">270</text>
<text transform="translate(482.1 82.1) rotate(-0.1)" font-size="18.6" text-anchor="end" textLength="32.8" lengthAdjust="spacingAndGlyphs">275</text>
<text transform="translate(482.1 62.6) rotate(-0.1)" font-size="18.6" text-anchor="end" textLength="32.8" lengthAdjust="spacingAndGlyphs">280</text>
<g fill="none" stroke="#0072BD" stroke-width="2"><ellipse cx="490.4" cy="87.0" rx="4" ry="3.6"/><ellipse cx="492.1" cy="89.0" rx="4" ry="3.6"/><ellipse cx="493.9" cy="88.0" rx="4" ry="3.6"/><ellipse cx="495.6" cy="87.3" rx="4" ry="3.6"/><ellipse cx="497.3" cy="88.3" rx="4" ry="3.6"/><ellipse cx="499.1" cy="88.9" rx="4" ry="3.6"/><ellipse cx="500.8" cy="90.1" rx="4" ry="3.6"/><ellipse cx="502.5" cy="96.5" rx="4" ry="3.6"/><ellipse cx="504.3" cy="101.0" rx="4" ry="3.6"/><ellipse cx="506.0" cy="102.2" rx="4" ry="3.6"/><ellipse cx="507.7" cy="101.6" rx="4" ry="3.6"/><ellipse cx="508.6" cy="101.3" rx="4" ry="3.6"/><ellipse cx="509.5" cy="100.6" rx="4" ry="3.6"/><ellipse cx="510.3" cy="97.1" rx="4" ry="3.6"/><ellipse cx="511.2" cy="98.4" rx="4" ry="3.6"/><ellipse cx="512.1" cy="95.2" rx="4" ry="3.6"/><ellipse cx="512.9" cy="96.0" rx="4" ry="3.6"/><ellipse cx="513.8" cy="94.8" rx="4" ry="3.6"/><ellipse cx="514.7" cy="94.9" rx="4" ry="3.6"/><ellipse cx="515.5" cy="93.1" rx="4" ry="3.6"/><ellipse cx="516.4" cy="90.7" rx="4" ry="3.6"/><ellipse cx="517.3" cy="91.5" rx="4" ry="3.6"/><ellipse cx="518.1" cy="89.4" rx="4" ry="3.6"/><ellipse cx="519.0" cy="90.1" rx="4" ry="3.6"/><ellipse cx="519.9" cy="87.0" rx="4" ry="3.6"/><ellipse cx="520.7" cy="87.2" rx="4" ry="3.6"/><ellipse cx="521.6" cy="87.6" rx="4" ry="3.6"/><ellipse cx="522.5" cy="85.6" rx="4" ry="3.6"/><ellipse cx="523.3" cy="86.4" rx="4" ry="3.6"/><ellipse cx="524.2" cy="86.0" rx="4" ry="3.6"/><ellipse cx="525.1" cy="85.5" rx="4" ry="3.6"/><ellipse cx="525.9" cy="85.3" rx="4" ry="3.6"/><ellipse cx="526.8" cy="83.6" rx="4" ry="3.6"/><ellipse cx="527.7" cy="82.4" rx="4" ry="3.6"/><ellipse cx="528.5" cy="82.3" rx="4" ry="3.6"/><ellipse cx="529.4" cy="82.2" rx="4" ry="3.6"/><ellipse cx="530.3" cy="80.8" rx="4" ry="3.6"/><ellipse cx="531.1" cy="82.2" rx="4" ry="3.6"/><ellipse cx="532.0" cy="80.0" rx="4" ry="3.6"/><ellipse cx="532.9" cy="79.5" rx="4" ry="3.6"/><ellipse cx="533.7" cy="81.5" rx="4" ry="3.6"/><ellipse cx="534.6" cy="80.7" rx="4" ry="3.6"/><ellipse cx="535.5" cy="78.8" rx="4" ry="3.6"/><ellipse cx="536.3" cy="78.6" rx="4" ry="3.6"/><ellipse cx="537.2" cy="79.5" rx="4" ry="3.6"/><ellipse cx="538.1" cy="78.5" rx="4" ry="3.6"/><ellipse cx="538.9" cy="77.0" rx="4" ry="3.6"/><ellipse cx="539.8" cy="77.0" rx="4" ry="3.6"/><ellipse cx="540.7" cy="77.6" rx="4" ry="3.6"/><ellipse cx="541.5" cy="74.7" rx="4" ry="3.6"/><ellipse cx="542.4" cy="77.0" rx="4" ry="3.6"/><ellipse cx="543.3" cy="75.3" rx="4" ry="3.6"/><ellipse cx="544.1" cy="73.7" rx="4" ry="3.6"/><ellipse cx="545.0" cy="75.0" rx="4" ry="3.6"/><ellipse cx="545.9" cy="72.6" rx="4" ry="3.6"/><ellipse cx="546.7" cy="73.2" rx="4" ry="3.6"/><ellipse cx="547.6" cy="73.3" rx="4" ry="3.6"/><ellipse cx="548.5" cy="72.0" rx="4" ry="3.6"/><ellipse cx="549.3" cy="73.4" rx="4" ry="3.6"/><ellipse cx="550.2" cy="72.5" rx="4" ry="3.6"/><ellipse cx="551.1" cy="70.7" rx="4" ry="3.6"/><ellipse cx="551.9" cy="70.4" rx="4" ry="3.6"/><ellipse cx="552.8" cy="69.9" rx="4" ry="3.6"/><ellipse cx="553.7" cy="71.0" rx="4" ry="3.6"/><ellipse cx="554.5" cy="69.6" rx="4" ry="3.6"/><ellipse cx="555.4" cy="70.3" rx="4" ry="3.6"/><ellipse cx="556.3" cy="70.8" rx="4" ry="3.6"/><ellipse cx="557.1" cy="70.7" rx="4" ry="3.6"/><ellipse cx="558.0" cy="68.4" rx="4" ry="3.6"/><ellipse cx="558.9" cy="68.8" rx="4" ry="3.6"/><ellipse cx="559.7" cy="68.8" rx="4" ry="3.6"/><ellipse cx="560.6" cy="68.5" rx="4" ry="3.6"/><ellipse cx="561.5" cy="68.4" rx="4" ry="3.6"/><ellipse cx="562.3" cy="68.3" rx="4" ry="3.6"/><ellipse cx="563.2" cy="68.9" rx="4" ry="3.6"/><ellipse cx="564.1" cy="67.5" rx="4" ry="3.6"/><ellipse cx="564.9" cy="67.4" rx="4" ry="3.6"/><ellipse cx="565.8" cy="67.3" rx="4" ry="3.6"/><ellipse cx="566.7" cy="66.5" rx="4" ry="3.6"/><ellipse cx="567.5" cy="67.7" rx="4" ry="3.6"/><ellipse cx="568.4" cy="66.8" rx="4" ry="3.6"/><ellipse cx="569.3" cy="68.1" rx="4" ry="3.6"/><ellipse cx="570.1" cy="67.6" rx="4" ry="3.6"/><ellipse cx="571.0" cy="65.8" rx="4" ry="3.6"/><ellipse cx="571.9" cy="65.6" rx="4" ry="3.6"/><ellipse cx="572.7" cy="66.9" rx="4" ry="3.6"/><ellipse cx="573.6" cy="66.1" rx="4" ry="3.6"/><ellipse cx="574.5" cy="64.4" rx="4" ry="3.6"/><ellipse cx="575.3" cy="65.9" rx="4" ry="3.6"/><ellipse cx="576.2" cy="65.1" rx="4" ry="3.6"/><ellipse cx="577.1" cy="66.0" rx="4" ry="3.6"/><ellipse cx="577.9" cy="65.7" rx="4" ry="3.6"/><ellipse cx="578.8" cy="66.0" rx="4" ry="3.6"/><ellipse cx="579.7" cy="65.3" rx="4" ry="3.6"/><ellipse cx="580.5" cy="65.7" rx="4" ry="3.6"/><ellipse cx="581.4" cy="63.8" rx="4" ry="3.6"/><ellipse cx="582.3" cy="63.6" rx="4" ry="3.6"/><ellipse cx="583.1" cy="62.4" rx="4" ry="3.6"/><ellipse cx="584.0" cy="64.3" rx="4" ry="3.6"/><ellipse cx="584.9" cy="61.9" rx="4" ry="3.6"/><ellipse cx="585.7" cy="62.6" rx="4" ry="3.6"/><ellipse cx="586.6" cy="62.1" rx="4" ry="3.6"/><ellipse cx="587.5" cy="62.6" rx="4" ry="3.6"/><ellipse cx="588.3" cy="61.1" rx="4" ry="3.6"/><ellipse cx="589.2" cy="60.1" rx="4" ry="3.6"/><ellipse cx="590.1" cy="60.5" rx="4" ry="3.6"/><ellipse cx="590.9" cy="59.4" rx="4" ry="3.6"/><ellipse cx="591.8" cy="59.8" rx="4" ry="3.6"/><ellipse cx="592.7" cy="60.5" rx="4" ry="3.6"/><ellipse cx="593.5" cy="58.6" rx="4" ry="3.6"/><ellipse cx="594.4" cy="61.1" rx="4" ry="3.6"/><ellipse cx="595.3" cy="59.8" rx="4" ry="3.6"/><ellipse cx="596.1" cy="59.1" rx="4" ry="3.6"/><ellipse cx="597.0" cy="60.6" rx="4" ry="3.6"/><ellipse cx="597.9" cy="58.7" rx="4" ry="3.6"/><ellipse cx="598.7" cy="59.2" rx="4" ry="3.6"/><ellipse cx="599.6" cy="61.0" rx="4" ry="3.6"/><ellipse cx="600.5" cy="59.2" rx="4" ry="3.6"/><ellipse cx="601.3" cy="60.7" rx="4" ry="3.6"/><ellipse cx="602.2" cy="58.9" rx="4" ry="3.6"/><ellipse cx="603.1" cy="60.3" rx="4" ry="3.6"/><ellipse cx="603.9" cy="60.7" rx="4" ry="3.6"/><ellipse cx="604.8" cy="59.6" rx="4" ry="3.6"/><ellipse cx="605.7" cy="60.0" rx="4" ry="3.6"/><ellipse cx="606.5" cy="60.8" rx="4" ry="3.6"/><ellipse cx="607.4" cy="61.1" rx="4" ry="3.6"/><ellipse cx="608.3" cy="60.2" rx="4" ry="3.6"/><ellipse cx="609.1" cy="61.1" rx="4" ry="3.6"/><ellipse cx="610.0" cy="63.0" rx="4" ry="3.6"/><ellipse cx="610.9" cy="61.4" rx="4" ry="3.6"/><ellipse cx="611.7" cy="63.0" rx="4" ry="3.6"/><ellipse cx="612.6" cy="61.6" rx="4" ry="3.6"/><ellipse cx="613.5" cy="62.6" rx="4" ry="3.6"/><ellipse cx="614.3" cy="63.1" rx="4" ry="3.6"/><ellipse cx="615.2" cy="63.9" rx="4" ry="3.6"/><ellipse cx="616.1" cy="64.8" rx="4" ry="3.6"/><ellipse cx="616.9" cy="65.5" rx="4" ry="3.6"/><ellipse cx="617.8" cy="65.8" rx="4" ry="3.6"/><ellipse cx="618.7" cy="66.6" rx="4" ry="3.6"/><ellipse cx="619.5" cy="67.4" rx="4" ry="3.6"/><ellipse cx="620.4" cy="66.0" rx="4" ry="3.6"/><ellipse cx="621.3" cy="67.0" rx="4" ry="3.6"/><ellipse cx="622.1" cy="65.9" rx="4" ry="3.6"/><ellipse cx="623.0" cy="64.8" rx="4" ry="3.6"/><ellipse cx="623.9" cy="64.3" rx="4" ry="3.6"/><ellipse cx="624.7" cy="65.6" rx="4" ry="3.6"/><ellipse cx="625.6" cy="64.9" rx="4" ry="3.6"/><ellipse cx="627.3" cy="61.7" rx="4" ry="3.6"/><ellipse cx="629.1" cy="58.6" rx="4" ry="3.6"/><ellipse cx="630.8" cy="47.9" rx="4" ry="3.6"/><ellipse cx="632.5" cy="43.7" rx="4" ry="3.6"/><ellipse cx="634.3" cy="48.1" rx="4" ry="3.6"/><ellipse cx="636.0" cy="51.3" rx="4" ry="3.6"/><ellipse cx="637.7" cy="51.8" rx="4" ry="3.6"/><ellipse cx="639.5" cy="53.2" rx="4" ry="3.6"/><ellipse cx="641.2" cy="56.6" rx="4" ry="3.6"/><ellipse cx="642.9" cy="59.4" rx="4" ry="3.6"/><ellipse cx="644.7" cy="61.2" rx="4" ry="3.6"/><ellipse cx="646.4" cy="61.3" rx="4" ry="3.6"/><ellipse cx="648.1" cy="63.3" rx="4" ry="3.6"/><ellipse cx="649.9" cy="65.4" rx="4" ry="3.6"/><ellipse cx="651.6" cy="67.6" rx="4" ry="3.6"/><ellipse cx="653.3" cy="66.3" rx="4" ry="3.6"/><ellipse cx="655.1" cy="67.0" rx="4" ry="3.6"/><ellipse cx="656.8" cy="67.1" rx="4" ry="3.6"/><ellipse cx="646.2" cy="72.0" rx="4" ry="3.6"/></g>
</g>
<g>
<path d="M491.28 226.61H696.40M491.28 221.11H696.40M491.28 215.62H696.40M491.28 210.12H696.40M491.28 199.13H696.40M491.28 193.64H696.40M491.28 188.14H696.40M491.28 182.65H696.40" stroke="#262626" stroke-opacity="0.29" stroke-width="1.9" stroke-dasharray="1.35 4.22" fill="none"/>
<path d="M532.00 172.10V232.10M573.60 172.10V232.10M615.20 172.10V232.10M656.80 172.10V232.10M490.40 204.63H698.40M490.40 177.15H698.40" stroke="#262626" stroke-opacity="0.15" stroke-width="1.9" fill="none"/>
<path d="M490.40 172.10H698.40V232.10H490.40ZM490.40 232.10v-3.0M490.40 172.10v3.0M532.00 232.10v-3.0M532.00 172.10v3.0M573.60 232.10v-3.0M573.60 172.10v3.0M615.20 232.10v-3.0M615.20 172.10v3.0M656.80 232.10v-3.0M656.80 172.10v3.0M698.40 232.10v-3.0M698.40 172.10v3.0M490.40 232.10h3.0M698.40 232.10h-3.0M490.40 204.63h3.0M698.40 204.63h-3.0M490.40 177.15h3.0M698.40 177.15h-3.0" stroke="#262626" stroke-width="2" fill="none" stroke-linejoin="miter"/>
<text transform="translate(482.1 238.5) rotate(-0.1)" font-size="18.6" text-anchor="end" textLength="10.9" lengthAdjust="spacingAndGlyphs">0</text>
<text transform="translate(482.1 211.1) rotate(-0.1)" font-size="18.6" text-anchor="end" textLength="26.7" lengthAdjust="spacingAndGlyphs">0.5</text>
<text transform="translate(482.1 183.6) rotate(-0.1)" font-size="18.6" text-anchor="end" textLength="10.9" lengthAdjust="spacingAndGlyphs">1</text>
<g fill="none" stroke="#0072BD" stroke-width="2"><ellipse cx="489.9" cy="231.6" rx="4" ry="3.6"/><ellipse cx="492.3" cy="231.6" rx="4" ry="3.6"/><ellipse cx="494.6" cy="231.6" rx="4" ry="3.6"/><ellipse cx="494.6" cy="220.6" rx="4" ry="3.6"/><ellipse cx="498.4" cy="220.6" rx="4" ry="3.6"/><ellipse cx="499.2" cy="214.5" rx="4" ry="3.6"/><ellipse cx="500.9" cy="214.8" rx="4" ry="3.6"/><ellipse cx="502.7" cy="216.0" rx="4" ry="3.6"/><ellipse cx="504.4" cy="216.5" rx="4" ry="3.6"/><ellipse cx="506.1" cy="215.3" rx="4" ry="3.6"/><ellipse cx="507.9" cy="215.9" rx="4" ry="3.6"/><ellipse cx="509.6" cy="214.3" rx="4" ry="3.6"/><ellipse cx="511.3" cy="215.4" rx="4" ry="3.6"/><ellipse cx="513.1" cy="215.2" rx="4" ry="3.6"/><ellipse cx="514.8" cy="215.2" rx="4" ry="3.6"/><ellipse cx="516.5" cy="214.4" rx="4" ry="3.6"/><ellipse cx="518.3" cy="215.7" rx="4" ry="3.6"/><ellipse cx="520.0" cy="215.8" rx="4" ry="3.6"/><ellipse cx="521.7" cy="215.7" rx="4" ry="3.6"/><ellipse cx="523.5" cy="216.1" rx="4" ry="3.6"/><ellipse cx="525.2" cy="215.2" rx="4" ry="3.6"/><ellipse cx="526.9" cy="216.4" rx="4" ry="3.6"/><ellipse cx="528.7" cy="215.6" rx="4" ry="3.6"/><ellipse cx="530.4" cy="216.5" rx="4" ry="3.6"/><ellipse cx="532.1" cy="215.1" rx="4" ry="3.6"/><ellipse cx="533.9" cy="215.9" rx="4" ry="3.6"/><ellipse cx="535.6" cy="214.5" rx="4" ry="3.6"/><ellipse cx="537.3" cy="214.1" rx="4" ry="3.6"/><ellipse cx="539.1" cy="216.6" rx="4" ry="3.6"/><ellipse cx="540.8" cy="215.0" rx="4" ry="3.6"/><ellipse cx="542.5" cy="214.0" rx="4" ry="3.6"/><ellipse cx="544.3" cy="215.7" rx="4" ry="3.6"/><ellipse cx="546.0" cy="216.6" rx="4" ry="3.6"/><ellipse cx="547.7" cy="216.1" rx="4" ry="3.6"/><ellipse cx="549.5" cy="216.8" rx="4" ry="3.6"/><ellipse cx="551.2" cy="216.6" rx="4" ry="3.6"/><ellipse cx="552.9" cy="215.2" rx="4" ry="3.6"/><ellipse cx="554.7" cy="214.6" rx="4" ry="3.6"/><ellipse cx="523.1" cy="220.6" rx="4" ry="3.6"/><ellipse cx="531.6" cy="220.6" rx="4" ry="3.6"/><ellipse cx="540.8" cy="220.6" rx="4" ry="3.6"/><ellipse cx="553.2" cy="220.6" rx="4" ry="3.6"/><ellipse cx="557.0" cy="220.6" rx="4" ry="3.6"/><ellipse cx="573.2" cy="220.6" rx="4" ry="3.6"/><ellipse cx="579.4" cy="220.6" rx="4" ry="3.6"/><ellipse cx="524.6" cy="231.6" rx="4" ry="3.6"/><ellipse cx="533.6" cy="231.6" rx="4" ry="3.6"/><ellipse cx="542.4" cy="231.6" rx="4" ry="3.6"/><ellipse cx="546.2" cy="231.6" rx="4" ry="3.6"/><ellipse cx="513.1" cy="209.0" rx="4" ry="3.6"/><ellipse cx="535.4" cy="209.0" rx="4" ry="3.6"/><ellipse cx="558.0" cy="231.6" rx="4" ry="3.6"/><ellipse cx="559.7" cy="231.6" rx="4" ry="3.6"/><ellipse cx="561.5" cy="231.6" rx="4" ry="3.6"/><ellipse cx="563.2" cy="231.6" rx="4" ry="3.6"/><ellipse cx="564.9" cy="231.6" rx="4" ry="3.6"/><ellipse cx="566.7" cy="231.6" rx="4" ry="3.6"/><ellipse cx="568.4" cy="231.6" rx="4" ry="3.6"/><ellipse cx="570.1" cy="231.6" rx="4" ry="3.6"/><ellipse cx="571.9" cy="231.6" rx="4" ry="3.6"/><ellipse cx="573.6" cy="231.6" rx="4" ry="3.6"/><ellipse cx="575.3" cy="231.6" rx="4" ry="3.6"/><ellipse cx="577.1" cy="231.6" rx="4" ry="3.6"/><ellipse cx="578.8" cy="231.6" rx="4" ry="3.6"/><ellipse cx="580.5" cy="231.6" rx="4" ry="3.6"/><ellipse cx="582.3" cy="231.6" rx="4" ry="3.6"/><ellipse cx="584.0" cy="231.6" rx="4" ry="3.6"/><ellipse cx="585.7" cy="231.6" rx="4" ry="3.6"/><ellipse cx="587.5" cy="231.6" rx="4" ry="3.6"/><ellipse cx="589.2" cy="231.6" rx="4" ry="3.6"/><ellipse cx="590.9" cy="231.6" rx="4" ry="3.6"/><ellipse cx="592.7" cy="231.6" rx="4" ry="3.6"/><ellipse cx="594.4" cy="231.6" rx="4" ry="3.6"/><ellipse cx="596.1" cy="231.6" rx="4" ry="3.6"/><ellipse cx="597.9" cy="231.6" rx="4" ry="3.6"/><ellipse cx="599.6" cy="231.6" rx="4" ry="3.6"/><ellipse cx="601.3" cy="231.6" rx="4" ry="3.6"/><ellipse cx="603.1" cy="231.6" rx="4" ry="3.6"/><ellipse cx="604.8" cy="231.6" rx="4" ry="3.6"/><ellipse cx="606.5" cy="231.6" rx="4" ry="3.6"/><ellipse cx="608.3" cy="231.6" rx="4" ry="3.6"/><ellipse cx="610.0" cy="231.6" rx="4" ry="3.6"/><ellipse cx="611.7" cy="231.6" rx="4" ry="3.6"/><ellipse cx="613.5" cy="231.6" rx="4" ry="3.6"/><ellipse cx="615.2" cy="231.6" rx="4" ry="3.6"/><ellipse cx="616.9" cy="231.6" rx="4" ry="3.6"/><ellipse cx="618.7" cy="231.6" rx="4" ry="3.6"/><ellipse cx="620.4" cy="231.6" rx="4" ry="3.6"/><ellipse cx="622.1" cy="231.6" rx="4" ry="3.6"/><ellipse cx="623.9" cy="231.6" rx="4" ry="3.6"/><ellipse cx="625.6" cy="231.6" rx="4" ry="3.6"/><ellipse cx="632.4" cy="231.6" rx="4" ry="3.6"/><ellipse cx="634.1" cy="231.6" rx="4" ry="3.6"/><ellipse cx="635.9" cy="231.6" rx="4" ry="3.6"/><ellipse cx="637.6" cy="231.6" rx="4" ry="3.6"/><ellipse cx="639.3" cy="231.6" rx="4" ry="3.6"/><ellipse cx="641.1" cy="231.6" rx="4" ry="3.6"/><ellipse cx="642.8" cy="231.6" rx="4" ry="3.6"/><ellipse cx="644.5" cy="231.6" rx="4" ry="3.6"/><ellipse cx="646.3" cy="231.6" rx="4" ry="3.6"/><ellipse cx="648.0" cy="231.6" rx="4" ry="3.6"/><ellipse cx="649.7" cy="231.6" rx="4" ry="3.6"/><ellipse cx="651.5" cy="231.6" rx="4" ry="3.6"/><ellipse cx="653.2" cy="231.6" rx="4" ry="3.6"/><ellipse cx="654.9" cy="231.6" rx="4" ry="3.6"/><ellipse cx="656.7" cy="231.6" rx="4" ry="3.6"/><ellipse cx="580.2" cy="224.5" rx="4" ry="3.6"/><ellipse cx="588.7" cy="225.2" rx="4" ry="3.6"/><ellipse cx="596.4" cy="215.2" rx="4" ry="3.6"/><ellipse cx="597.9" cy="220.3" rx="4" ry="3.6"/><ellipse cx="629.3" cy="171.6" rx="4" ry="3.6"/><ellipse cx="631.1" cy="177.1" rx="4" ry="3.6"/><ellipse cx="646.7" cy="177.4" rx="4" ry="3.6"/><ellipse cx="596.6" cy="215.7" rx="4" ry="3.6"/><ellipse cx="598.0" cy="220.6" rx="4" ry="3.6"/><ellipse cx="608.5" cy="215.2" rx="4" ry="3.6"/><ellipse cx="618.8" cy="215.2" rx="4" ry="3.6"/><ellipse cx="632.7" cy="215.2" rx="4" ry="3.6"/><ellipse cx="626.7" cy="221.4" rx="4" ry="3.6"/><ellipse cx="617.2" cy="225.2" rx="4" ry="3.6"/><ellipse cx="627.7" cy="226.0" rx="4" ry="3.6"/><ellipse cx="643.2" cy="220.6" rx="4" ry="3.6"/><ellipse cx="642.4" cy="225.2" rx="4" ry="3.6"/><ellipse cx="587.6" cy="225.2" rx="4" ry="3.6"/></g>
</g>
<g>
<path d="M491.28 352.20H696.40M491.28 344.70H696.40M491.28 337.20H696.40M491.28 322.20H696.40M491.28 314.70H696.40M491.28 307.20H696.40" stroke="#262626" stroke-opacity="0.29" stroke-width="1.9" stroke-dasharray="1.35 4.22" fill="none"/>
<path d="M532.00 299.70V359.70M573.60 299.70V359.70M615.20 299.70V359.70M656.80 299.70V359.70M490.40 329.70H698.40" stroke="#262626" stroke-opacity="0.15" stroke-width="1.9" fill="none"/>
<path d="M490.40 299.70H698.40V359.70H490.40ZM490.40 359.70v-3.0M490.40 299.70v3.0M532.00 359.70v-3.0M532.00 299.70v3.0M573.60 359.70v-3.0M573.60 299.70v3.0M615.20 359.70v-3.0M615.20 299.70v3.0M656.80 359.70v-3.0M656.80 299.70v3.0M698.40 359.70v-3.0M698.40 299.70v3.0M490.40 359.70h3.0M698.40 359.70h-3.0M490.40 329.70h3.0M698.40 329.70h-3.0M490.40 299.70h3.0M698.40 299.70h-3.0" stroke="#262626" stroke-width="2" fill="none" stroke-linejoin="miter"/>
<text transform="translate(482.1 366.1) rotate(-0.1)" font-size="18.6" text-anchor="end" textLength="10.9" lengthAdjust="spacingAndGlyphs">0</text>
<text transform="translate(482.1 336.1) rotate(-0.1)" font-size="18.6" text-anchor="end" textLength="10.9" lengthAdjust="spacingAndGlyphs">2</text>
<text transform="translate(482.1 306.1) rotate(-0.1)" font-size="18.6" text-anchor="end" textLength="10.9" lengthAdjust="spacingAndGlyphs">4</text>
<g fill="none" stroke="#0072BD" stroke-width="2"><ellipse cx="490.4" cy="356.3" rx="4" ry="3.6"/><ellipse cx="491.3" cy="356.9" rx="4" ry="3.6"/><ellipse cx="492.1" cy="358.0" rx="4" ry="3.6"/><ellipse cx="493.0" cy="358.8" rx="4" ry="3.6"/><ellipse cx="493.9" cy="356.1" rx="4" ry="3.6"/><ellipse cx="494.7" cy="358.6" rx="4" ry="3.6"/><ellipse cx="495.6" cy="358.2" rx="4" ry="3.6"/><ellipse cx="496.5" cy="357.6" rx="4" ry="3.6"/><ellipse cx="497.3" cy="355.5" rx="4" ry="3.6"/><ellipse cx="498.2" cy="354.9" rx="4" ry="3.6"/><ellipse cx="499.1" cy="356.5" rx="4" ry="3.6"/><ellipse cx="499.9" cy="355.8" rx="4" ry="3.6"/><ellipse cx="500.8" cy="354.5" rx="4" ry="3.6"/><ellipse cx="501.7" cy="354.1" rx="4" ry="3.6"/><ellipse cx="502.5" cy="352.8" rx="4" ry="3.6"/><ellipse cx="503.4" cy="355.3" rx="4" ry="3.6"/><ellipse cx="504.3" cy="354.5" rx="4" ry="3.6"/><ellipse cx="505.1" cy="354.6" rx="4" ry="3.6"/><ellipse cx="506.0" cy="353.8" rx="4" ry="3.6"/><ellipse cx="506.9" cy="352.4" rx="4" ry="3.6"/><ellipse cx="507.7" cy="353.2" rx="4" ry="3.6"/><ellipse cx="508.6" cy="351.0" rx="4" ry="3.6"/><ellipse cx="509.5" cy="352.1" rx="4" ry="3.6"/><ellipse cx="510.3" cy="350.4" rx="4" ry="3.6"/><ellipse cx="511.2" cy="350.6" rx="4" ry="3.6"/><ellipse cx="512.1" cy="351.7" rx="4" ry="3.6"/><ellipse cx="512.9" cy="350.0" rx="4" ry="3.6"/><ellipse cx="513.8" cy="351.1" rx="4" ry="3.6"/><ellipse cx="514.7" cy="349.6" rx="4" ry="3.6"/><ellipse cx="515.5" cy="348.1" rx="4" ry="3.6"/><ellipse cx="516.4" cy="347.4" rx="4" ry="3.6"/><ellipse cx="517.3" cy="346.0" rx="4" ry="3.6"/><ellipse cx="518.1" cy="347.1" rx="4" ry="3.6"/><ellipse cx="519.0" cy="347.3" rx="4" ry="3.6"/><ellipse cx="519.9" cy="344.6" rx="4" ry="3.6"/><ellipse cx="520.7" cy="344.5" rx="4" ry="3.6"/><ellipse cx="521.6" cy="345.2" rx="4" ry="3.6"/><ellipse cx="522.5" cy="342.5" rx="4" ry="3.6"/><ellipse cx="523.3" cy="343.5" rx="4" ry="3.6"/><ellipse cx="524.2" cy="342.9" rx="4" ry="3.6"/><ellipse cx="525.1" cy="341.7" rx="4" ry="3.6"/><ellipse cx="525.9" cy="341.9" rx="4" ry="3.6"/><ellipse cx="526.8" cy="340.0" rx="4" ry="3.6"/><ellipse cx="527.7" cy="341.1" rx="4" ry="3.6"/><ellipse cx="528.5" cy="341.7" rx="4" ry="3.6"/><ellipse cx="529.4" cy="339.9" rx="4" ry="3.6"/><ellipse cx="530.3" cy="339.1" rx="4" ry="3.6"/><ellipse cx="531.1" cy="338.8" rx="4" ry="3.6"/><ellipse cx="532.0" cy="339.0" rx="4" ry="3.6"/><ellipse cx="532.9" cy="339.0" rx="4" ry="3.6"/><ellipse cx="533.7" cy="340.5" rx="4" ry="3.6"/><ellipse cx="534.6" cy="339.2" rx="4" ry="3.6"/><ellipse cx="535.5" cy="339.2" rx="4" ry="3.6"/><ellipse cx="536.3" cy="337.9" rx="4" ry="3.6"/><ellipse cx="537.2" cy="337.2" rx="4" ry="3.6"/><ellipse cx="538.1" cy="337.4" rx="4" ry="3.6"/><ellipse cx="538.9" cy="337.4" rx="4" ry="3.6"/><ellipse cx="539.8" cy="335.0" rx="4" ry="3.6"/><ellipse cx="540.7" cy="335.2" rx="4" ry="3.6"/><ellipse cx="541.5" cy="335.3" rx="4" ry="3.6"/><ellipse cx="542.4" cy="335.7" rx="4" ry="3.6"/><ellipse cx="543.3" cy="333.2" rx="4" ry="3.6"/><ellipse cx="544.1" cy="333.0" rx="4" ry="3.6"/><ellipse cx="545.0" cy="333.4" rx="4" ry="3.6"/><ellipse cx="545.9" cy="332.7" rx="4" ry="3.6"/><ellipse cx="546.7" cy="334.7" rx="4" ry="3.6"/><ellipse cx="547.6" cy="336.3" rx="4" ry="3.6"/><ellipse cx="548.5" cy="334.8" rx="4" ry="3.6"/><ellipse cx="549.3" cy="335.9" rx="4" ry="3.6"/><ellipse cx="550.2" cy="334.1" rx="4" ry="3.6"/><ellipse cx="551.1" cy="334.6" rx="4" ry="3.6"/><ellipse cx="551.9" cy="335.3" rx="4" ry="3.6"/><ellipse cx="552.8" cy="333.3" rx="4" ry="3.6"/><ellipse cx="553.7" cy="331.6" rx="4" ry="3.6"/><ellipse cx="554.5" cy="331.4" rx="4" ry="3.6"/><ellipse cx="555.4" cy="331.9" rx="4" ry="3.6"/><ellipse cx="556.3" cy="332.1" rx="4" ry="3.6"/><ellipse cx="557.1" cy="330.5" rx="4" ry="3.6"/><ellipse cx="558.0" cy="330.1" rx="4" ry="3.6"/><ellipse cx="558.9" cy="330.7" rx="4" ry="3.6"/><ellipse cx="559.7" cy="328.1" rx="4" ry="3.6"/><ellipse cx="560.6" cy="330.2" rx="4" ry="3.6"/><ellipse cx="561.5" cy="328.3" rx="4" ry="3.6"/><ellipse cx="562.3" cy="327.5" rx="4" ry="3.6"/><ellipse cx="563.2" cy="328.4" rx="4" ry="3.6"/><ellipse cx="564.1" cy="326.4" rx="4" ry="3.6"/><ellipse cx="564.9" cy="325.6" rx="4" ry="3.6"/><ellipse cx="565.8" cy="325.5" rx="4" ry="3.6"/><ellipse cx="566.7" cy="326.5" rx="4" ry="3.6"/><ellipse cx="567.5" cy="324.6" rx="4" ry="3.6"/><ellipse cx="568.4" cy="325.5" rx="4" ry="3.6"/><ellipse cx="569.3" cy="324.8" rx="4" ry="3.6"/><ellipse cx="570.1" cy="325.6" rx="4" ry="3.6"/><ellipse cx="571.0" cy="324.2" rx="4" ry="3.6"/><ellipse cx="571.9" cy="325.9" rx="4" ry="3.6"/><ellipse cx="572.7" cy="325.8" rx="4" ry="3.6"/><ellipse cx="573.6" cy="323.4" rx="4" ry="3.6"/><ellipse cx="574.5" cy="323.0" rx="4" ry="3.6"/><ellipse cx="575.3" cy="323.1" rx="4" ry="3.6"/><ellipse cx="576.2" cy="323.0" rx="4" ry="3.6"/><ellipse cx="577.1" cy="321.1" rx="4" ry="3.6"/><ellipse cx="577.9" cy="323.2" rx="4" ry="3.6"/><ellipse cx="578.8" cy="323.9" rx="4" ry="3.6"/><ellipse cx="579.7" cy="324.2" rx="4" ry="3.6"/><ellipse cx="580.5" cy="323.4" rx="4" ry="3.6"/><ellipse cx="581.4" cy="325.2" rx="4" ry="3.6"/><ellipse cx="582.3" cy="325.4" rx="4" ry="3.6"/><ellipse cx="583.1" cy="325.3" rx="4" ry="3.6"/><ellipse cx="584.0" cy="326.7" rx="4" ry="3.6"/><ellipse cx="584.9" cy="328.6" rx="4" ry="3.6"/><ellipse cx="585.7" cy="329.4" rx="4" ry="3.6"/><ellipse cx="586.6" cy="331.0" rx="4" ry="3.6"/><ellipse cx="587.5" cy="331.7" rx="4" ry="3.6"/><ellipse cx="588.3" cy="331.0" rx="4" ry="3.6"/><ellipse cx="589.2" cy="332.5" rx="4" ry="3.6"/><ellipse cx="590.1" cy="333.9" rx="4" ry="3.6"/><ellipse cx="590.9" cy="333.0" rx="4" ry="3.6"/><ellipse cx="591.8" cy="332.3" rx="4" ry="3.6"/><ellipse cx="592.7" cy="334.5" rx="4" ry="3.6"/><ellipse cx="593.5" cy="333.1" rx="4" ry="3.6"/><ellipse cx="594.4" cy="332.7" rx="4" ry="3.6"/><ellipse cx="595.3" cy="333.4" rx="4" ry="3.6"/><ellipse cx="596.1" cy="333.0" rx="4" ry="3.6"/><ellipse cx="597.0" cy="333.3" rx="4" ry="3.6"/><ellipse cx="597.9" cy="334.8" rx="4" ry="3.6"/><ellipse cx="598.7" cy="335.4" rx="4" ry="3.6"/><ellipse cx="599.6" cy="334.1" rx="4" ry="3.6"/><ellipse cx="600.5" cy="333.3" rx="4" ry="3.6"/><ellipse cx="601.3" cy="334.2" rx="4" ry="3.6"/><ellipse cx="602.2" cy="334.0" rx="4" ry="3.6"/><ellipse cx="603.1" cy="334.0" rx="4" ry="3.6"/><ellipse cx="603.9" cy="333.4" rx="4" ry="3.6"/><ellipse cx="604.8" cy="334.9" rx="4" ry="3.6"/><ellipse cx="605.7" cy="333.1" rx="4" ry="3.6"/><ellipse cx="606.5" cy="332.6" rx="4" ry="3.6"/><ellipse cx="607.4" cy="334.4" rx="4" ry="3.6"/><ellipse cx="608.3" cy="334.4" rx="4" ry="3.6"/><ellipse cx="609.1" cy="332.8" rx="4" ry="3.6"/><ellipse cx="610.0" cy="332.5" rx="4" ry="3.6"/><ellipse cx="610.9" cy="333.6" rx="4" ry="3.6"/><ellipse cx="611.7" cy="334.5" rx="4" ry="3.6"/><ellipse cx="613.5" cy="332.3" rx="4" ry="3.6"/><ellipse cx="615.2" cy="326.4" rx="4" ry="3.6"/><ellipse cx="616.9" cy="323.5" rx="4" ry="3.6"/><ellipse cx="618.7" cy="323.8" rx="4" ry="3.6"/><ellipse cx="620.4" cy="321.6" rx="4" ry="3.6"/><ellipse cx="622.1" cy="319.2" rx="4" ry="3.6"/><ellipse cx="623.9" cy="319.2" rx="4" ry="3.6"/><ellipse cx="625.6" cy="319.9" rx="4" ry="3.6"/><ellipse cx="627.3" cy="320.2" rx="4" ry="3.6"/><ellipse cx="629.1" cy="323.1" rx="4" ry="3.6"/><ellipse cx="630.8" cy="332.6" rx="4" ry="3.6"/><ellipse cx="632.5" cy="340.8" rx="4" ry="3.6"/><ellipse cx="634.3" cy="336.7" rx="4" ry="3.6"/><ellipse cx="636.0" cy="333.0" rx="4" ry="3.6"/><ellipse cx="637.7" cy="328.2" rx="4" ry="3.6"/><ellipse cx="639.5" cy="325.8" rx="4" ry="3.6"/><ellipse cx="641.2" cy="323.0" rx="4" ry="3.6"/><ellipse cx="642.9" cy="314.0" rx="4" ry="3.6"/><ellipse cx="644.7" cy="312.9" rx="4" ry="3.6"/><ellipse cx="646.4" cy="309.7" rx="4" ry="3.6"/><ellipse cx="648.1" cy="311.9" rx="4" ry="3.6"/><ellipse cx="649.9" cy="313.0" rx="4" ry="3.6"/><ellipse cx="651.6" cy="314.0" rx="4" ry="3.6"/><ellipse cx="653.3" cy="317.2" rx="4" ry="3.6"/><ellipse cx="655.1" cy="320.3" rx="4" ry="3.6"/><ellipse cx="656.8" cy="318.0" rx="4" ry="3.6"/><ellipse cx="617.7" cy="332.2" rx="4" ry="3.6"/><ellipse cx="644.7" cy="323.7" rx="4" ry="3.6"/></g>
</g>
<g>
<path d="M491.28 483.28H696.40M491.28 479.15H696.40M491.28 475.03H696.40M491.28 470.91H696.40M491.28 462.66H696.40M491.28 458.53H696.40M491.28 454.41H696.40M491.28 450.29H696.40M491.28 442.04H696.40M491.28 437.92H696.40M491.28 433.79H696.40M491.28 429.67H696.40" stroke="#262626" stroke-opacity="0.29" stroke-width="1.9" stroke-dasharray="1.35 4.22" fill="none"/>
<path d="M532.00 427.40V487.40M573.60 427.40V487.40M615.20 427.40V487.40M656.80 427.40V487.40M490.40 466.78H698.40M490.40 446.16H698.40" stroke="#262626" stroke-opacity="0.15" stroke-width="1.9" fill="none"/>
<path d="M490.40 427.40H698.40V487.40H490.40ZM490.40 487.40v-3.0M490.40 427.40v3.0M532.00 487.40v-3.0M532.00 427.40v3.0M573.60 487.40v-3.0M573.60 427.40v3.0M615.20 487.40v-3.0M615.20 427.40v3.0M656.80 487.40v-3.0M656.80 427.40v3.0M698.40 487.40v-3.0M698.40 427.40v3.0M490.40 487.40h3.0M698.40 487.40h-3.0M490.40 466.78h3.0M698.40 466.78h-3.0M490.40 446.16h3.0M698.40 446.16h-3.0" stroke="#262626" stroke-width="2" fill="none" stroke-linejoin="miter"/>
<text transform="translate(482.1 493.8) rotate(-0.1)" font-size="18.6" text-anchor="end" textLength="10.9" lengthAdjust="spacingAndGlyphs">0</text>
<text transform="translate(482.1 473.2) rotate(-0.1)" font-size="18.6" text-anchor="end" textLength="32.8" lengthAdjust="spacingAndGlyphs">100</text>
<text transform="translate(482.1 452.6) rotate(-0.1)" font-size="18.6" text-anchor="end" textLength="32.8" lengthAdjust="spacingAndGlyphs">200</text>
<g fill="none" stroke="#0072BD" stroke-width="2"><ellipse cx="490.4" cy="480.2" rx="4" ry="3.6"/><ellipse cx="492.1" cy="482.9" rx="4" ry="3.6"/><ellipse cx="493.9" cy="486.4" rx="4" ry="3.6"/><ellipse cx="495.6" cy="487.3" rx="4" ry="3.6"/><ellipse cx="497.3" cy="487.3" rx="4" ry="3.6"/><ellipse cx="499.1" cy="487.3" rx="4" ry="3.6"/><ellipse cx="500.8" cy="487.3" rx="4" ry="3.6"/><ellipse cx="502.5" cy="487.3" rx="4" ry="3.6"/><ellipse cx="504.3" cy="487.3" rx="4" ry="3.6"/><ellipse cx="506.0" cy="487.3" rx="4" ry="3.6"/><ellipse cx="507.7" cy="487.3" rx="4" ry="3.6"/><ellipse cx="509.5" cy="485.6" rx="4" ry="3.6"/><ellipse cx="511.2" cy="483.0" rx="4" ry="3.6"/><ellipse cx="512.9" cy="476.4" rx="4" ry="3.6"/><ellipse cx="514.7" cy="468.2" rx="4" ry="3.6"/><ellipse cx="516.4" cy="456.4" rx="4" ry="3.6"/><ellipse cx="518.1" cy="449.4" rx="4" ry="3.6"/><ellipse cx="519.9" cy="448.0" rx="4" ry="3.6"/><ellipse cx="521.6" cy="447.9" rx="4" ry="3.6"/><ellipse cx="523.3" cy="454.1" rx="4" ry="3.6"/><ellipse cx="525.1" cy="469.9" rx="4" ry="3.6"/><ellipse cx="526.8" cy="482.2" rx="4" ry="3.6"/><ellipse cx="528.5" cy="483.5" rx="4" ry="3.6"/><ellipse cx="530.3" cy="485.4" rx="4" ry="3.6"/><ellipse cx="532.0" cy="485.9" rx="4" ry="3.6"/><ellipse cx="533.7" cy="485.8" rx="4" ry="3.6"/><ellipse cx="535.5" cy="486.9" rx="4" ry="3.6"/><ellipse cx="537.2" cy="487.5" rx="4" ry="3.6"/><ellipse cx="538.9" cy="487.3" rx="4" ry="3.6"/><ellipse cx="540.7" cy="487.1" rx="4" ry="3.6"/><ellipse cx="542.4" cy="486.9" rx="4" ry="3.6"/><ellipse cx="544.1" cy="486.8" rx="4" ry="3.6"/><ellipse cx="545.9" cy="485.1" rx="4" ry="3.6"/><ellipse cx="547.6" cy="483.9" rx="4" ry="3.6"/><ellipse cx="549.3" cy="480.9" rx="4" ry="3.6"/><ellipse cx="551.1" cy="476.4" rx="4" ry="3.6"/><ellipse cx="552.8" cy="470.1" rx="4" ry="3.6"/><ellipse cx="554.5" cy="456.5" rx="4" ry="3.6"/><ellipse cx="556.3" cy="440.3" rx="4" ry="3.6"/><ellipse cx="558.0" cy="427.4" rx="4" ry="3.6"/><ellipse cx="559.7" cy="432.7" rx="4" ry="3.6"/><ellipse cx="561.5" cy="438.5" rx="4" ry="3.6"/><ellipse cx="563.2" cy="446.1" rx="4" ry="3.6"/><ellipse cx="564.9" cy="459.9" rx="4" ry="3.6"/><ellipse cx="566.7" cy="472.1" rx="4" ry="3.6"/><ellipse cx="568.4" cy="485.7" rx="4" ry="3.6"/><ellipse cx="570.1" cy="486.6" rx="4" ry="3.6"/><ellipse cx="571.9" cy="486.7" rx="4" ry="3.6"/><ellipse cx="573.6" cy="486.7" rx="4" ry="3.6"/><ellipse cx="575.3" cy="486.8" rx="4" ry="3.6"/><ellipse cx="577.1" cy="486.9" rx="4" ry="3.6"/><ellipse cx="578.8" cy="487.0" rx="4" ry="3.6"/><ellipse cx="580.5" cy="487.1" rx="4" ry="3.6"/><ellipse cx="582.3" cy="487.2" rx="4" ry="3.6"/><ellipse cx="584.0" cy="487.3" rx="4" ry="3.6"/><ellipse cx="585.7" cy="485.8" rx="4" ry="3.6"/><ellipse cx="587.5" cy="482.6" rx="4" ry="3.6"/><ellipse cx="589.2" cy="479.8" rx="4" ry="3.6"/><ellipse cx="590.9" cy="476.4" rx="4" ry="3.6"/><ellipse cx="592.7" cy="473.0" rx="4" ry="3.6"/><ellipse cx="594.4" cy="470.6" rx="4" ry="3.6"/><ellipse cx="596.1" cy="468.6" rx="4" ry="3.6"/><ellipse cx="597.9" cy="465.4" rx="4" ry="3.6"/><ellipse cx="599.6" cy="465.0" rx="4" ry="3.6"/><ellipse cx="601.3" cy="468.6" rx="4" ry="3.6"/><ellipse cx="603.1" cy="471.9" rx="4" ry="3.6"/><ellipse cx="604.8" cy="475.8" rx="4" ry="3.6"/><ellipse cx="606.5" cy="478.8" rx="4" ry="3.6"/><ellipse cx="608.3" cy="484.7" rx="4" ry="3.6"/><ellipse cx="610.0" cy="486.7" rx="4" ry="3.6"/><ellipse cx="611.7" cy="487.5" rx="4" ry="3.6"/><ellipse cx="613.5" cy="487.5" rx="4" ry="3.6"/><ellipse cx="615.2" cy="487.5" rx="4" ry="3.6"/><ellipse cx="616.9" cy="487.5" rx="4" ry="3.6"/><ellipse cx="618.7" cy="487.5" rx="4" ry="3.6"/><ellipse cx="620.4" cy="487.5" rx="4" ry="3.6"/><ellipse cx="622.1" cy="487.5" rx="4" ry="3.6"/><ellipse cx="623.9" cy="487.5" rx="4" ry="3.6"/><ellipse cx="625.6" cy="486.5" rx="4" ry="3.6"/><ellipse cx="627.3" cy="484.8" rx="4" ry="3.6"/><ellipse cx="629.1" cy="482.8" rx="4" ry="3.6"/><ellipse cx="630.8" cy="481.3" rx="4" ry="3.6"/><ellipse cx="632.5" cy="467.8" rx="4" ry="3.6"/><ellipse cx="634.3" cy="465.3" rx="4" ry="3.6"/><ellipse cx="636.0" cy="466.9" rx="4" ry="3.6"/><ellipse cx="637.7" cy="470.2" rx="4" ry="3.6"/><ellipse cx="639.5" cy="473.0" rx="4" ry="3.6"/><ellipse cx="641.2" cy="475.1" rx="4" ry="3.6"/><ellipse cx="642.9" cy="472.6" rx="4" ry="3.6"/><ellipse cx="644.7" cy="469.3" rx="4" ry="3.6"/><ellipse cx="646.4" cy="472.6" rx="4" ry="3.6"/><ellipse cx="648.1" cy="478.0" rx="4" ry="3.6"/><ellipse cx="649.9" cy="482.3" rx="4" ry="3.6"/><ellipse cx="651.6" cy="485.5" rx="4" ry="3.6"/><ellipse cx="653.3" cy="485.9" rx="4" ry="3.6"/><ellipse cx="655.1" cy="486.6" rx="4" ry="3.6"/><ellipse cx="656.8" cy="486.6" rx="4" ry="3.6"/><ellipse cx="520.5" cy="449.2" rx="4" ry="3.6"/><ellipse cx="516.0" cy="452.5" rx="4" ry="3.6"/></g>
<text transform="translate(503.4 509.9) rotate(-45)" font-size="18.6" text-anchor="end" textLength="50.5" lengthAdjust="spacingAndGlyphs">03/03</text>
<text transform="translate(545.0 509.9) rotate(-45)" font-size="18.6" text-anchor="end" textLength="50.5" lengthAdjust="spacingAndGlyphs">03/04</text>
<text transform="translate(586.6 509.9) rotate(-45)" font-size="18.6" text-anchor="end" textLength="50.5" lengthAdjust="spacingAndGlyphs">03/05</text>
<text transform="translate(628.2 509.9) rotate(-45)" font-size="18.6" text-anchor="end" textLength="50.5" lengthAdjust="spacingAndGlyphs">03/06</text>
<text transform="translate(669.8 509.9) rotate(-45)" font-size="18.6" text-anchor="end" textLength="50.5" lengthAdjust="spacingAndGlyphs">03/07</text>
<text transform="translate(711.4 509.9) rotate(-45)" font-size="18.6" text-anchor="end" textLength="50.5" lengthAdjust="spacingAndGlyphs">03/08</text>
<text transform="translate(593.6 575.7) rotate(-0.1)" font-size="20.6" text-anchor="middle" textLength="49.6" lengthAdjust="spacingAndGlyphs">Time</text>
</g>
<text transform="translate(83.6 125.3) rotate(-89.9)" font-size="20.6" textLength="101.9" lengthAdjust="spacingAndGlyphs">PRESSURE</text>
<text transform="translate(85.8 246.1) rotate(-89.9)" font-size="20.6" textLength="33.5" lengthAdjust="spacingAndGlyphs">AIR</text>
<text transform="translate(95.5 211.4) rotate(-89.9)" font-size="16.0" textLength="9.4" lengthAdjust="spacingAndGlyphs">T</text>
<text transform="translate(85.8 203.1) rotate(-89.9)" font-size="20.6" textLength="44.9" lengthAdjust="spacingAndGlyphs">EMP</text>
<text transform="translate(83.6 384.0) rotate(-89.9)" font-size="20.6" textLength="107.4" lengthAdjust="spacingAndGlyphs">MIXDEPTH</text>
<text transform="translate(74.6 502.0) rotate(-89.9)" font-size="20.6" textLength="51.2" lengthAdjust="spacingAndGlyphs">TERR</text>
<text transform="translate(85.0 450.8) rotate(-89.9)" font-size="16.0" textLength="15.3" lengthAdjust="spacingAndGlyphs">M</text>
<text transform="translate(74.6 434.3) rotate(-89.9)" font-size="20.6" textLength="22.3" lengthAdjust="spacingAndGlyphs">SL</text>
<text transform="translate(438.0 107.0) rotate(-89.9)" font-size="20.6" textLength="65.5" lengthAdjust="spacingAndGlyphs">THETA</text>
<text transform="translate(445.0 250.5) rotate(-89.9)" font-size="20.6" textLength="95.7" lengthAdjust="spacingAndGlyphs">RAINFALL</text>
<text transform="translate(460.0 384.8) rotate(-89.9)" font-size="20.6" textLength="110.3" lengthAdjust="spacingAndGlyphs">H2OMIXRA</text>
<text transform="translate(398.7 503.5) rotate(-89.9)" font-size="20.6" textLength="41.6" lengthAdjust="spacingAndGlyphs">SUN</text>
<text transform="translate(407.6 459.0) rotate(-89.9)" font-size="16.0" textLength="9.0" lengthAdjust="spacingAndGlyphs">F</text>
<text transform="translate(398.7 449.7) rotate(-89.9)" font-size="20.6" textLength="38.9" lengthAdjust="spacingAndGlyphs">LUX</text>
<text transform="translate(250.9 31.7) rotate(-0.1)" font-size="20.6" font-weight="bold" text-anchor="middle" textLength="139.4" lengthAdjust="spacingAndGlyphs" style="fill:#000">Figure 2 high</text>
</svg></body></html>
